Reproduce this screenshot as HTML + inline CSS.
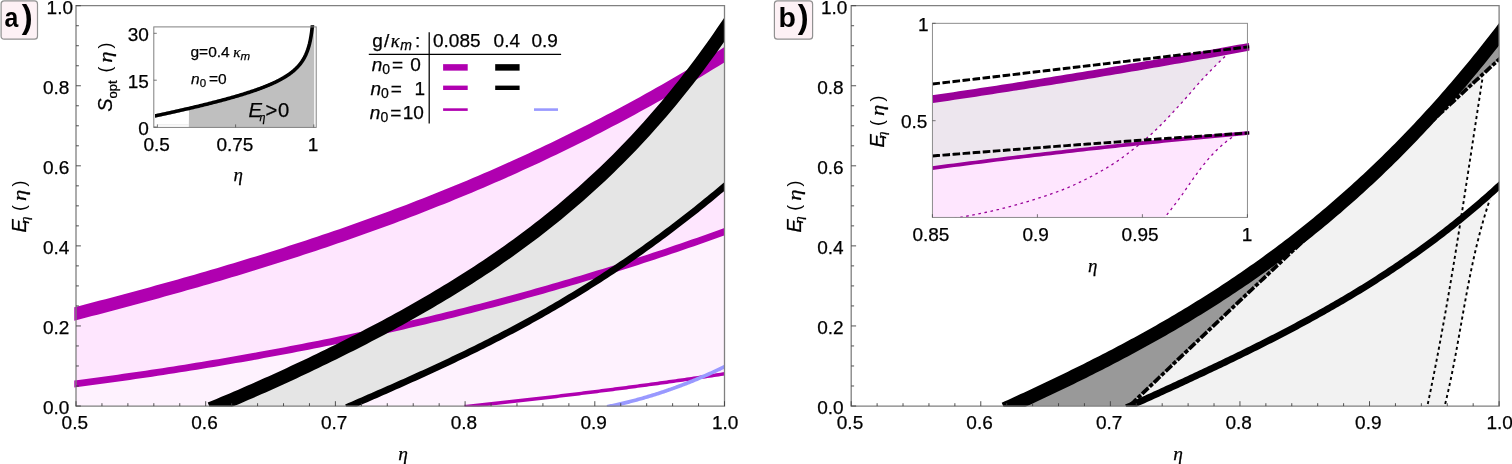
<!DOCTYPE html>
<html lang="en"><head><meta charset="utf-8"><title>Figure</title><style>
html,body{margin:0;padding:0;background:#fff;}
body{width:1512px;height:464px;overflow:hidden;}
svg{display:block;}
text{fill:#000;}
.tk{font-family:"Liberation Sans",sans-serif;font-size:19.0px;}
text{stroke:#000;stroke-width:0.25px;}
.pr{stroke-width:0;}
.sr{font-family:"Liberation Sans",sans-serif;}
.si{font-family:"Liberation Sans",sans-serif;font-style:italic;}
.gi{font-family:"Liberation Serif","DejaVu Serif",serif;font-style:italic;}
.rm{font-family:"Liberation Serif",serif;}
.lg{font-size:19px;}
.bx{font-family:"Liberation Sans",sans-serif;font-weight:bold;stroke-width:0;}
</style></head><body>
<svg width="1512" height="464" viewBox="0 0 1512 464">
<defs>
<clipPath id="cl"><rect x="74.3" y="5.7" width="650.2" height="401.1"/></clipPath>
<clipPath id="clf"><rect x="76.0" y="5.7" width="648.5" height="400.3"/></clipPath>
<clipPath id="crf"><rect x="851.2" y="5.7" width="647.8999999999999" height="400.3"/></clipPath>
<clipPath id="cr"><rect x="849.5" y="5.7" width="649.5999999999999" height="401.3"/></clipPath>
<clipPath id="cli"><rect x="155" y="25.3" width="161.2" height="102.1"/></clipPath>
<clipPath id="cri"><rect x="932.4" y="23.3" width="317" height="194.1"/></clipPath>
</defs>
<rect width="1512" height="464" fill="#fff"/>
<g clip-path="url(#clf)">
<path d="M68,315.61 L73.58,314.17 L79.16,312.73 L84.74,311.28 L90.32,309.82 L95.9,308.36 L101.48,306.9 L107.06,305.43 L112.64,303.95 L118.22,302.46 L123.8,300.97 L129.38,299.47 L134.96,297.97 L140.54,296.46 L146.12,294.94 L151.7,293.41 L157.28,291.87 L162.86,290.33 L168.44,288.78 L174.02,287.22 L179.6,285.65 L185.18,284.07 L190.76,282.48 L196.34,280.88 L201.92,279.28 L207.5,277.66 L213.08,276.03 L218.66,274.39 L224.24,272.75 L229.82,271.09 L235.39,269.42 L240.97,267.73 L246.55,266.04 L252.13,264.34 L257.71,262.62 L263.29,260.89 L268.87,259.15 L274.45,257.4 L280.03,255.63 L285.61,253.85 L291.19,252.06 L296.77,250.25 L302.35,248.43 L307.93,246.6 L313.51,244.75 L319.09,242.89 L324.67,241.01 L330.25,239.12 L335.83,237.21 L341.41,235.29 L346.99,233.36 L352.57,231.4 L358.15,229.43 L363.73,227.45 L369.31,225.45 L374.89,223.43 L380.47,221.4 L386.05,219.34 L391.63,217.28 L397.21,215.19 L402.79,213.09 L408.37,210.97 L413.95,208.83 L419.53,206.67 L425.11,204.49 L430.69,202.3 L436.27,200.08 L441.85,197.85 L447.43,195.6 L453.01,193.33 L458.59,191.03 L464.17,188.72 L469.75,186.39 L475.33,184.04 L480.91,181.66 L486.49,179.27 L492.07,176.85 L497.65,174.42 L503.23,171.96 L508.81,169.48 L514.39,166.98 L519.97,164.45 L525.55,161.91 L531.13,159.34 L536.71,156.74 L542.29,154.13 L547.87,151.49 L553.45,148.83 L559.03,146.14 L564.61,143.43 L570.18,140.7 L575.76,137.94 L581.34,135.15 L586.92,132.34 L592.5,129.51 L598.08,126.65 L603.66,123.77 L609.24,120.86 L614.82,117.92 L620.4,114.96 L625.98,111.97 L631.56,108.96 L637.14,105.91 L642.72,102.84 L648.3,99.75 L653.88,96.62 L659.46,93.47 L665.04,90.29 L670.62,87.09 L676.2,83.85 L681.78,80.58 L687.36,77.29 L692.94,73.97 L698.52,70.62 L704.1,67.23 L709.68,63.82 L715.26,60.38 L720.84,56.91 L726.42,53.41 L732,49.88 L732,228.93 L726.42,230.96 L720.84,232.99 L715.26,234.99 L709.68,236.99 L704.1,238.97 L698.52,240.93 L692.94,242.88 L687.36,244.82 L681.78,246.74 L676.2,248.64 L670.62,250.54 L665.04,252.42 L659.46,254.28 L653.88,256.14 L648.3,257.97 L642.72,259.8 L637.14,261.61 L631.56,263.41 L625.98,265.19 L620.4,266.96 L614.82,268.72 L609.24,270.46 L603.66,272.19 L598.08,273.9 L592.5,275.61 L586.92,277.3 L581.34,278.97 L575.76,280.64 L570.18,282.29 L564.61,283.93 L559.03,285.55 L553.45,287.16 L547.87,288.76 L542.29,290.35 L536.71,291.92 L531.13,293.48 L525.55,295.03 L519.97,296.57 L514.39,298.09 L508.81,299.6 L503.23,301.1 L497.65,302.59 L492.07,304.07 L486.49,305.53 L480.91,306.98 L475.33,308.42 L469.75,309.84 L464.17,311.26 L458.59,312.66 L453.01,314.05 L447.43,315.43 L441.85,316.8 L436.27,318.15 L430.69,319.5 L425.11,320.83 L419.53,322.15 L413.95,323.46 L408.37,324.76 L402.79,326.05 L397.21,327.32 L391.63,328.59 L386.05,329.84 L380.47,331.09 L374.89,332.32 L369.31,333.54 L363.73,334.75 L358.15,335.95 L352.57,337.13 L346.99,338.31 L341.41,339.48 L335.83,340.64 L330.25,341.78 L324.67,342.92 L319.09,344.04 L313.51,345.16 L307.93,346.26 L302.35,347.35 L296.77,348.44 L291.19,349.51 L285.61,350.58 L280.03,351.63 L274.45,352.67 L268.87,353.71 L263.29,354.73 L257.71,355.74 L252.13,356.75 L246.55,357.74 L240.97,358.73 L235.39,359.7 L229.82,360.67 L224.24,361.63 L218.66,362.57 L213.08,363.51 L207.5,364.44 L201.92,365.36 L196.34,366.27 L190.76,367.17 L185.18,368.06 L179.6,368.94 L174.02,369.82 L168.44,370.68 L162.86,371.54 L157.28,372.39 L151.7,373.23 L146.12,374.06 L140.54,374.88 L134.96,375.69 L129.38,376.5 L123.8,377.29 L118.22,378.08 L112.64,378.86 L107.06,379.63 L101.48,380.39 L95.9,381.15 L90.32,381.9 L84.74,382.64 L79.16,383.37 L73.58,384.09 L68,384.81Z" fill="#fee6fe"/>
<path d="M68,384.81 L71.34,384.38 L74.67,383.95 L78.01,383.52 L81.35,383.08 L84.68,382.64 L88.02,382.2 L91.36,381.76 L94.69,381.31 L98.03,380.86 L101.37,380.41 L104.7,379.95 L108.04,379.5 L111.38,379.03 L114.71,378.57 L118.05,378.1 L121.39,377.63 L124.72,377.16 L128.06,376.68 L131.4,376.21 L134.73,375.72 L138.07,375.24 L141.41,374.75 L144.74,374.26 L148.08,373.77 L151.42,373.27 L154.75,372.77 L158.09,372.26 L161.43,371.76 L164.76,371.25 L168.1,370.74 L171.44,370.22 L174.77,369.7 L178.11,369.18 L181.45,368.65 L184.78,368.12 L188.12,367.59 L191.46,367.06 L194.79,366.52 L198.13,365.98 L201.47,365.43 L204.8,364.88 L208.14,364.33 L211.48,363.78 L214.81,363.22 L218.15,362.66 L221.49,362.09 L224.82,361.53 L228.16,360.95 L231.5,360.38 L234.83,359.8 L238.17,359.22 L241.51,358.63 L244.84,358.05 L248.18,357.45 L251.52,356.86 L254.85,356.26 L258.19,355.66 L261.53,355.05 L264.86,354.44 L268.2,353.83 L271.54,353.21 L274.87,352.59 L278.21,351.97 L281.55,351.34 L284.88,350.71 L288.22,350.08 L291.56,349.44 L294.89,348.8 L298.23,348.16 L301.57,347.51 L304.9,346.85 L308.24,346.2 L311.58,345.54 L314.91,344.88 L318.25,344.21 L321.59,343.54 L324.92,342.87 L328.26,342.19 L331.6,341.51 L334.93,340.82 L338.27,340.13 L341.61,339.44 L344.94,338.74 L348.28,338.04 L351.62,337.34 L354.95,336.63 L358.29,335.92 L361.63,335.2 L364.96,334.48 L368.3,333.76 L371.64,333.03 L374.97,332.3 L378.31,331.56 L381.65,330.82 L384.98,330.08 L388.32,329.33 L391.66,328.58 L394.99,327.83 L398.33,327.07 L401.67,326.3 L405.01,325.54 L408.34,324.77 L411.68,323.99 L415.02,323.21 L418.35,322.43 L421.69,321.64 L425.03,320.85 L428.36,320.05 L431.7,319.25 L435.04,318.45 L438.37,317.64 L441.71,316.83 L445.05,316.01 L448.38,315.19 L451.72,314.37 L455.06,313.54 L458.39,312.71 L461.73,311.87 L465.07,311.03 L468.4,310.18 L471.74,309.33 L475.08,308.48 L478.41,307.62 L481.75,306.76 L485.09,305.89 L488.42,305.02 L491.76,304.15 L495.1,303.26 L498.43,302.38 L501.77,301.49 L505.11,300.6 L508.44,299.7 L511.78,298.8 L515.12,297.89 L518.45,296.98 L521.79,296.07 L525.13,295.15 L528.46,294.22 L531.8,293.3 L535.14,292.36 L538.47,291.42 L541.81,290.48 L545.15,289.54 L548.48,288.59 L551.82,287.63 L555.16,286.67 L558.49,285.7 L561.83,284.73 L565.17,283.76 L568.5,282.78 L571.84,281.8 L575.18,280.81 L578.51,279.82 L581.85,278.82 L585.19,277.82 L588.52,276.81 L591.86,275.8 L595.2,274.79 L598.53,273.77 L601.87,272.74 L605.21,271.71 L608.54,270.68 L611.88,269.63 L615.22,268.59 L618.55,267.54 L621.89,266.49 L625.23,265.43 L628.56,264.36 L631.9,263.3 L635.24,262.22 L638.57,261.14 L641.91,260.06 L645.25,258.97 L648.58,257.88 L651.92,256.78 L655.26,255.68 L658.59,254.57 L661.93,253.46 L665.27,252.34 L668.6,251.22 L671.94,250.09 L675.28,248.96 L678.61,247.82 L681.95,246.68 L685.29,245.53 L688.62,244.38 L691.96,243.22 L695.3,242.06 L698.63,240.89 L701.97,239.72 L705.31,238.54 L708.64,237.35 L711.98,236.17 L715.32,234.97 L718.65,233.77 L721.99,232.57 L725.33,231.36 L728.66,230.15 L732,228.93 L732,372.69 L728.66,373.19 L725.33,373.69 L721.99,374.19 L718.65,374.69 L715.32,375.18 L711.98,375.68 L708.64,376.17 L705.31,376.66 L701.97,377.14 L698.63,377.63 L695.3,378.11 L691.96,378.59 L688.62,379.07 L685.29,379.55 L681.95,380.02 L678.61,380.5 L675.28,380.97 L671.94,381.44 L668.6,381.9 L665.27,382.37 L661.93,382.83 L658.59,383.29 L655.26,383.75 L651.92,384.21 L648.58,384.66 L645.25,385.11 L641.91,385.56 L638.57,386.01 L635.24,386.46 L631.9,386.9 L628.56,387.35 L625.23,387.79 L621.89,388.22 L618.55,388.66 L615.22,389.09 L611.88,389.53 L608.54,389.96 L605.21,390.39 L601.87,390.81 L598.53,391.24 L595.2,391.66 L591.86,392.08 L588.52,392.5 L585.19,392.91 L581.85,393.33 L578.51,393.74 L575.18,394.15 L571.84,394.56 L568.5,394.96 L565.17,395.37 L561.83,395.77 L558.49,396.17 L555.16,396.57 L551.82,396.96 L548.48,397.36 L545.15,397.75 L541.81,398.14 L538.47,398.53 L535.14,398.91 L531.8,399.3 L528.46,399.68 L525.13,400.06 L521.79,400.44 L518.45,400.81 L515.12,401.19 L511.78,401.56 L508.44,401.93 L505.11,402.3 L501.77,402.66 L498.43,403.02 L495.1,403.39 L491.76,403.75 L488.42,404.1 L485.09,404.46 L481.75,404.81 L478.41,405.16 L475.08,405.51 L471.74,405.86 L468.4,406.21 L465.07,406.5 L461.73,406.5 L458.39,406.5 L455.06,406.5 L451.72,406.5 L448.38,406.5 L445.05,406.5 L441.71,406.5 L438.37,406.5 L435.04,406.5 L431.7,406.5 L428.36,406.5 L425.03,406.5 L421.69,406.5 L418.35,406.5 L415.02,406.5 L411.68,406.5 L408.34,406.5 L405.01,406.5 L401.67,406.5 L398.33,406.5 L394.99,406.5 L391.66,406.5 L388.32,406.5 L384.98,406.5 L381.65,406.5 L378.31,406.5 L374.97,406.5 L371.64,406.5 L368.3,406.5 L364.96,406.5 L361.63,406.5 L358.29,406.5 L354.95,406.5 L351.62,406.5 L348.28,406.5 L344.94,406.5 L341.61,406.5 L338.27,406.5 L334.93,406.5 L331.6,406.5 L328.26,406.5 L324.92,406.5 L321.59,406.5 L318.25,406.5 L314.91,406.5 L311.58,406.5 L308.24,406.5 L304.9,406.5 L301.57,406.5 L298.23,406.5 L294.89,406.5 L291.56,406.5 L288.22,406.5 L284.88,406.5 L281.55,406.5 L278.21,406.5 L274.87,406.5 L271.54,406.5 L268.2,406.5 L264.86,406.5 L261.53,406.5 L258.19,406.5 L254.85,406.5 L251.52,406.5 L248.18,406.5 L244.84,406.5 L241.51,406.5 L238.17,406.5 L234.83,406.5 L231.5,406.5 L228.16,406.5 L224.82,406.5 L221.49,406.5 L218.15,406.5 L214.81,406.5 L211.48,406.5 L208.14,406.5 L204.8,406.5 L201.47,406.5 L198.13,406.5 L194.79,406.5 L191.46,406.5 L188.12,406.5 L184.78,406.5 L181.45,406.5 L178.11,406.5 L174.77,406.5 L171.44,406.5 L168.1,406.5 L164.76,406.5 L161.43,406.5 L158.09,406.5 L154.75,406.5 L151.42,406.5 L148.08,406.5 L144.74,406.5 L141.41,406.5 L138.07,406.5 L134.73,406.5 L131.4,406.5 L128.06,406.5 L124.72,406.5 L121.39,406.5 L118.05,406.5 L114.71,406.5 L111.38,406.5 L108.04,406.5 L104.7,406.5 L101.37,406.5 L98.03,406.5 L94.69,406.5 L91.36,406.5 L88.02,406.5 L84.68,406.5 L81.35,406.5 L78.01,406.5 L74.67,406.5 L71.34,406.5 L68,406.5Z" fill="#fef2fe"/>
<path d="M213.3,407.52 L215.91,406.44 L218.51,405.36 L221.12,404.27 L223.73,403.18 L226.33,402.08 L228.94,400.98 L231.55,399.88 L234.15,398.76 L236.76,397.65 L239.37,396.53 L241.97,395.41 L244.58,394.28 L247.18,393.14 L249.79,392.01 L252.4,390.86 L255,389.72 L257.61,388.57 L260.22,387.41 L262.82,386.26 L265.43,385.09 L268.04,383.92 L270.64,382.75 L273.25,381.58 L275.86,380.4 L278.46,379.21 L281.07,378.02 L283.68,376.83 L286.28,375.63 L288.89,374.43 L291.5,373.22 L294.1,372.01 L296.71,370.79 L299.32,369.57 L301.92,368.35 L304.53,367.12 L307.14,365.89 L309.74,364.65 L312.35,363.41 L314.95,362.16 L317.56,360.91 L320.17,359.65 L322.77,358.39 L325.38,357.12 L327.99,355.85 L330.59,354.57 L333.2,353.3 L335.81,352.01 L338.41,350.72 L341.02,349.42 L343.63,348.12 L346.23,346.81 L348.84,345.5 L351.45,344.18 L354.05,342.86 L356.66,341.53 L359.27,340.2 L361.87,338.86 L364.48,337.51 L367.09,336.16 L369.69,334.8 L372.3,333.44 L374.91,332.07 L377.51,330.7 L380.12,329.31 L382.72,327.93 L385.33,326.53 L387.94,325.13 L390.54,323.73 L393.15,322.31 L395.76,320.89 L398.36,319.46 L400.97,318.03 L403.58,316.59 L406.18,315.13 L408.79,313.68 L411.4,312.22 L414,310.74 L416.61,309.27 L419.22,307.78 L421.82,306.28 L424.43,304.78 L427.04,303.27 L429.64,301.75 L432.25,300.22 L434.86,298.68 L437.46,297.14 L440.07,295.58 L442.67,294.02 L445.28,292.45 L447.89,290.87 L450.49,289.27 L453.1,287.67 L455.71,286.07 L458.31,284.44 L460.92,282.81 L463.53,281.17 L466.13,279.52 L468.74,277.86 L471.35,276.19 L473.95,274.51 L476.56,272.81 L479.17,271.11 L481.77,269.39 L484.38,267.66 L486.99,265.93 L489.59,264.17 L492.2,262.41 L494.81,260.64 L497.41,258.85 L500.02,257.05 L502.63,255.23 L505.23,253.41 L507.84,251.57 L510.44,249.71 L513.05,247.85 L515.66,245.97 L518.26,244.08 L520.87,242.17 L523.48,240.24 L526.08,238.31 L528.69,236.36 L531.3,234.39 L533.9,232.41 L536.51,230.41 L539.12,228.4 L541.72,226.37 L544.33,224.33 L546.94,222.27 L549.54,220.19 L552.15,218.1 L554.76,215.98 L557.36,213.86 L559.97,211.71 L562.58,209.55 L565.18,207.37 L567.79,205.17 L570.39,202.95 L573,200.71 L575.61,198.46 L578.21,196.19 L580.82,193.89 L583.43,191.58 L586.03,189.25 L588.64,186.89 L591.25,184.52 L593.85,182.13 L596.46,179.72 L599.07,177.28 L601.67,174.82 L604.28,172.34 L606.89,169.84 L609.49,167.32 L612.1,164.77 L614.71,162.2 L617.31,159.61 L619.92,157 L622.53,154.37 L625.13,151.7 L627.74,149.01 L630.35,146.3 L632.95,143.56 L635.56,140.81 L638.16,138.02 L640.77,135.21 L643.38,132.37 L645.98,129.5 L648.59,126.62 L651.2,123.7 L653.8,120.75 L656.41,117.78 L659.02,114.78 L661.62,111.76 L664.23,108.69 L666.84,105.61 L669.44,102.5 L672.05,99.35 L674.66,96.19 L677.26,92.97 L679.87,89.75 L682.48,86.48 L685.08,83.18 L687.69,79.86 L690.3,76.5 L692.9,73.11 L695.51,69.68 L698.12,66.23 L700.72,62.74 L703.33,59.22 L705.93,55.67 L708.54,52.07 L711.15,48.45 L713.75,44.79 L716.36,41.09 L718.97,37.37 L721.57,33.59 L724.18,29.8 L726.79,25.96 L729.39,22.08 L732,18.18 L732,180.08 L729.39,182.3 L726.79,184.51 L724.18,186.71 L721.57,188.9 L718.97,191.08 L716.36,193.25 L713.75,195.41 L711.15,197.55 L708.54,199.69 L705.93,201.81 L703.33,203.92 L700.72,206.02 L698.12,208.11 L695.51,210.19 L692.9,212.26 L690.3,214.31 L687.69,216.36 L685.08,218.39 L682.48,220.41 L679.87,222.43 L677.26,224.43 L674.66,226.41 L672.05,228.39 L669.44,230.36 L666.84,232.32 L664.23,234.26 L661.62,236.19 L659.02,238.12 L656.41,240.03 L653.8,241.93 L651.2,243.82 L648.59,245.7 L645.98,247.57 L643.38,249.43 L640.77,251.28 L638.16,253.11 L635.56,254.94 L632.95,256.75 L630.35,258.56 L627.74,260.35 L625.13,262.14 L622.53,263.91 L619.92,265.67 L617.31,267.43 L614.71,269.17 L612.1,270.9 L609.49,272.62 L606.89,274.34 L604.28,276.04 L601.67,277.73 L599.07,279.41 L596.46,281.08 L593.85,282.74 L591.25,284.4 L588.64,286.04 L586.03,287.67 L583.43,289.3 L580.82,290.91 L578.21,292.51 L575.61,294.11 L573,295.69 L570.39,297.27 L567.79,298.83 L565.18,300.39 L562.58,301.94 L559.97,303.48 L557.36,305.01 L554.76,306.53 L552.15,308.04 L549.54,309.54 L546.94,311.04 L544.33,312.52 L541.72,314 L539.12,315.47 L536.51,316.93 L533.9,318.38 L531.3,319.82 L528.69,321.26 L526.08,322.69 L523.48,324.11 L520.87,325.52 L518.26,326.92 L515.66,328.32 L513.05,329.71 L510.44,331.09 L507.84,332.46 L505.23,333.83 L502.63,335.19 L500.02,336.54 L497.41,337.88 L494.81,339.22 L492.2,340.55 L489.59,341.88 L486.99,343.19 L484.38,344.5 L481.77,345.81 L479.17,347.11 L476.56,348.4 L473.95,349.68 L471.35,350.96 L468.74,352.24 L466.13,353.51 L463.53,354.77 L460.92,356.03 L458.31,357.28 L455.71,358.52 L453.1,359.76 L450.49,361 L447.89,362.23 L445.28,363.46 L442.67,364.68 L440.07,365.89 L437.46,367.11 L434.86,368.31 L432.25,369.52 L429.64,370.72 L427.04,371.91 L424.43,373.1 L421.82,374.29 L419.22,375.47 L416.61,376.65 L414,377.83 L411.4,379.01 L408.79,380.18 L406.18,381.34 L403.58,382.51 L400.97,383.67 L398.36,384.83 L395.76,385.99 L393.15,387.14 L390.54,388.3 L387.94,389.45 L385.33,390.6 L382.72,391.75 L380.12,392.89 L377.51,394.04 L374.91,395.18 L372.3,396.32 L369.69,397.47 L367.09,398.61 L364.48,399.75 L361.87,400.89 L359.27,402.03 L356.66,403.17 L354.05,404.31 L351.45,405.45 L348.84,406.5 L346.23,406.5 L343.63,406.5 L341.02,406.5 L338.41,406.5 L335.81,406.5 L333.2,406.5 L330.59,406.5 L327.99,406.5 L325.38,406.5 L322.77,406.5 L320.17,406.5 L317.56,406.5 L314.95,406.5 L312.35,406.5 L309.74,406.5 L307.14,406.5 L304.53,406.5 L301.92,406.5 L299.32,406.5 L296.71,406.5 L294.1,406.5 L291.5,406.5 L288.89,406.5 L286.28,406.5 L283.68,406.5 L281.07,406.5 L278.46,406.5 L275.86,406.5 L273.25,406.5 L270.64,406.5 L268.04,406.5 L265.43,406.5 L262.82,406.5 L260.22,406.5 L257.61,406.5 L255,406.5 L252.4,406.5 L249.79,406.5 L247.18,406.5 L244.58,406.5 L241.97,406.5 L239.37,406.5 L236.76,406.5 L234.15,406.5 L231.55,406.5 L228.94,406.5 L226.33,406.5 L223.73,406.5 L221.12,406.5 L218.51,406.5 L215.91,406.5 L213.3,406.5Z" fill="#e5e5e5"/>
</g><g clip-path="url(#cl)">
<path d="M68,315.61 L73.58,314.17 L79.16,312.73 L84.74,311.28 L90.32,309.82 L95.9,308.36 L101.48,306.9 L107.06,305.43 L112.64,303.95 L118.22,302.46 L123.8,300.97 L129.38,299.47 L134.96,297.97 L140.54,296.46 L146.12,294.94 L151.7,293.41 L157.28,291.87 L162.86,290.33 L168.44,288.78 L174.02,287.22 L179.6,285.65 L185.18,284.07 L190.76,282.48 L196.34,280.88 L201.92,279.28 L207.5,277.66 L213.08,276.03 L218.66,274.39 L224.24,272.75 L229.82,271.09 L235.39,269.42 L240.97,267.73 L246.55,266.04 L252.13,264.34 L257.71,262.62 L263.29,260.89 L268.87,259.15 L274.45,257.4 L280.03,255.63 L285.61,253.85 L291.19,252.06 L296.77,250.25 L302.35,248.43 L307.93,246.6 L313.51,244.75 L319.09,242.89 L324.67,241.01 L330.25,239.12 L335.83,237.21 L341.41,235.29 L346.99,233.36 L352.57,231.4 L358.15,229.43 L363.73,227.45 L369.31,225.45 L374.89,223.43 L380.47,221.4 L386.05,219.34 L391.63,217.28 L397.21,215.19 L402.79,213.09 L408.37,210.97 L413.95,208.83 L419.53,206.67 L425.11,204.49 L430.69,202.3 L436.27,200.08 L441.85,197.85 L447.43,195.6 L453.01,193.33 L458.59,191.03 L464.17,188.72 L469.75,186.39 L475.33,184.04 L480.91,181.66 L486.49,179.27 L492.07,176.85 L497.65,174.42 L503.23,171.96 L508.81,169.48 L514.39,166.98 L519.97,164.45 L525.55,161.91 L531.13,159.34 L536.71,156.74 L542.29,154.13 L547.87,151.49 L553.45,148.83 L559.03,146.14 L564.61,143.43 L570.18,140.7 L575.76,137.94 L581.34,135.15 L586.92,132.34 L592.5,129.51 L598.08,126.65 L603.66,123.77 L609.24,120.86 L614.82,117.92 L620.4,114.96 L625.98,111.97 L631.56,108.96 L637.14,105.91 L642.72,102.84 L648.3,99.75 L653.88,96.62 L659.46,93.47 L665.04,90.29 L670.62,87.09 L676.2,83.85 L681.78,80.58 L687.36,77.29 L692.94,73.97 L698.52,70.62 L704.1,67.23 L709.68,63.82 L715.26,60.38 L720.84,56.91 L726.42,53.41 L732,49.88" fill="none" stroke="#b000b0" stroke-width="13"/>
<path d="M68,384.81 L73.58,384.09 L79.16,383.37 L84.74,382.64 L90.32,381.9 L95.9,381.15 L101.48,380.39 L107.06,379.63 L112.64,378.86 L118.22,378.08 L123.8,377.29 L129.38,376.5 L134.96,375.69 L140.54,374.88 L146.12,374.06 L151.7,373.23 L157.28,372.39 L162.86,371.54 L168.44,370.68 L174.02,369.82 L179.6,368.94 L185.18,368.06 L190.76,367.17 L196.34,366.27 L201.92,365.36 L207.5,364.44 L213.08,363.51 L218.66,362.57 L224.24,361.63 L229.82,360.67 L235.39,359.7 L240.97,358.73 L246.55,357.74 L252.13,356.75 L257.71,355.74 L263.29,354.73 L268.87,353.71 L274.45,352.67 L280.03,351.63 L285.61,350.58 L291.19,349.51 L296.77,348.44 L302.35,347.35 L307.93,346.26 L313.51,345.16 L319.09,344.04 L324.67,342.92 L330.25,341.78 L335.83,340.64 L341.41,339.48 L346.99,338.31 L352.57,337.13 L358.15,335.95 L363.73,334.75 L369.31,333.54 L374.89,332.32 L380.47,331.09 L386.05,329.84 L391.63,328.59 L397.21,327.32 L402.79,326.05 L408.37,324.76 L413.95,323.46 L419.53,322.15 L425.11,320.83 L430.69,319.5 L436.27,318.15 L441.85,316.8 L447.43,315.43 L453.01,314.05 L458.59,312.66 L464.17,311.26 L469.75,309.84 L475.33,308.42 L480.91,306.98 L486.49,305.53 L492.07,304.07 L497.65,302.59 L503.23,301.1 L508.81,299.6 L514.39,298.09 L519.97,296.57 L525.55,295.03 L531.13,293.48 L536.71,291.92 L542.29,290.35 L547.87,288.76 L553.45,287.16 L559.03,285.55 L564.61,283.93 L570.18,282.29 L575.76,280.64 L581.34,278.97 L586.92,277.3 L592.5,275.61 L598.08,273.9 L603.66,272.19 L609.24,270.46 L614.82,268.72 L620.4,266.96 L625.98,265.19 L631.56,263.41 L637.14,261.61 L642.72,259.8 L648.3,257.97 L653.88,256.14 L659.46,254.28 L665.04,252.42 L670.62,250.54 L676.2,248.64 L681.78,246.74 L687.36,244.82 L692.94,242.88 L698.52,240.93 L704.1,238.97 L709.68,236.99 L715.26,234.99 L720.84,232.99 L726.42,230.96 L732,228.93" fill="none" stroke="#b000b0" stroke-width="6.9"/>
<path d="M464.5,406.61 L466.75,406.38 L469,406.15 L471.24,405.91 L473.49,405.68 L475.74,405.44 L477.99,405.21 L480.24,404.97 L482.48,404.74 L484.73,404.5 L486.98,404.26 L489.23,404.02 L491.47,403.78 L493.72,403.53 L495.97,403.29 L498.22,403.05 L500.47,402.8 L502.71,402.56 L504.96,402.31 L507.21,402.06 L509.46,401.82 L511.71,401.57 L513.95,401.32 L516.2,401.06 L518.45,400.81 L520.7,400.56 L522.95,400.31 L525.19,400.05 L527.44,399.8 L529.69,399.54 L531.94,399.28 L534.18,399.02 L536.43,398.76 L538.68,398.5 L540.93,398.24 L543.18,397.98 L545.42,397.72 L547.67,397.45 L549.92,397.19 L552.17,396.92 L554.42,396.66 L556.66,396.39 L558.91,396.12 L561.16,395.85 L563.41,395.58 L565.66,395.31 L567.9,395.04 L570.15,394.76 L572.4,394.49 L574.65,394.21 L576.89,393.94 L579.14,393.66 L581.39,393.38 L583.64,393.11 L585.89,392.83 L588.13,392.55 L590.38,392.26 L592.63,391.98 L594.88,391.7 L597.13,391.41 L599.37,391.13 L601.62,390.84 L603.87,390.56 L606.12,390.27 L608.37,389.98 L610.61,389.69 L612.86,389.4 L615.11,389.11 L617.36,388.82 L619.61,388.52 L621.85,388.23 L624.1,387.93 L626.35,387.64 L628.6,387.34 L630.84,387.04 L633.09,386.74 L635.34,386.44 L637.59,386.14 L639.84,385.84 L642.08,385.54 L644.33,385.24 L646.58,384.93 L648.83,384.63 L651.08,384.32 L653.32,384.01 L655.57,383.71 L657.82,383.4 L660.07,383.09 L662.32,382.78 L664.56,382.46 L666.81,382.15 L669.06,381.84 L671.31,381.52 L673.55,381.21 L675.8,380.89 L678.05,380.58 L680.3,380.26 L682.55,379.94 L684.79,379.62 L687.04,379.3 L689.29,378.98 L691.54,378.65 L693.79,378.33 L696.03,378.01 L698.28,377.68 L700.53,377.35 L702.78,377.03 L705.03,376.7 L707.27,376.37 L709.52,376.04 L711.77,375.71 L714.02,375.38 L716.26,375.04 L718.51,374.71 L720.76,374.38 L723.01,374.04 L725.26,373.7 L727.5,373.37 L729.75,373.03 L732,372.69" fill="none" stroke="#b000b0" stroke-width="3.5"/>
<path d="M210.3,408.76 L214.68,406.95 L219.07,405.13 L223.45,403.3 L227.84,401.45 L232.22,399.59 L236.6,397.72 L240.99,395.83 L245.37,393.93 L249.76,392.02 L254.14,390.1 L258.52,388.17 L262.91,386.22 L267.29,384.26 L271.68,382.29 L276.06,380.3 L280.44,378.31 L284.83,376.3 L289.21,374.28 L293.6,372.25 L297.98,370.2 L302.36,368.14 L306.75,366.07 L311.13,363.99 L315.52,361.89 L319.9,359.78 L324.28,357.66 L328.67,355.52 L333.05,353.37 L337.44,351.2 L341.82,349.02 L346.21,346.83 L350.59,344.62 L354.97,342.39 L359.36,340.15 L363.74,337.89 L368.13,335.62 L372.51,333.33 L376.89,331.02 L381.28,328.7 L385.66,326.36 L390.05,324 L394.43,321.62 L398.81,319.22 L403.2,316.8 L407.58,314.36 L411.97,311.9 L416.35,309.41 L420.73,306.91 L425.12,304.38 L429.5,301.83 L433.89,299.26 L438.27,296.66 L442.65,294.03 L447.04,291.38 L451.42,288.71 L455.81,286.01 L460.19,283.27 L464.57,280.51 L468.96,277.72 L473.34,274.9 L477.73,272.05 L482.11,269.17 L486.49,266.26 L490.88,263.31 L495.26,260.33 L499.65,257.31 L504.03,254.25 L508.41,251.16 L512.8,248.03 L517.18,244.87 L521.57,241.66 L525.95,238.41 L530.33,235.12 L534.72,231.79 L539.1,228.41 L543.49,224.99 L547.87,221.53 L552.25,218.01 L556.64,214.45 L561.02,210.84 L565.41,207.18 L569.79,203.47 L574.17,199.71 L578.56,195.89 L582.94,192.02 L587.33,188.09 L591.71,184.1 L596.09,180.06 L600.48,175.96 L604.86,171.79 L609.25,167.56 L613.63,163.27 L618.02,158.92 L622.4,154.5 L626.78,150.01 L631.17,145.45 L635.55,140.82 L639.94,136.12 L644.32,131.34 L648.7,126.5 L653.09,121.57 L657.47,116.57 L661.86,111.49 L666.24,106.33 L670.62,101.09 L675.01,95.76 L679.39,90.35 L683.78,84.85 L688.16,79.26 L692.54,73.58 L696.93,67.82 L701.31,61.95 L705.7,56 L710.08,49.95 L714.46,43.8 L718.85,37.54 L723.23,31.19 L727.62,24.74 L732,18.18" fill="none" stroke="#000" stroke-width="13.5"/>
<path d="M346.5,407.61 L349.74,406.19 L352.98,404.78 L356.22,403.36 L359.46,401.94 L362.7,400.53 L365.94,399.11 L369.18,397.69 L372.42,396.27 L375.66,394.85 L378.89,393.43 L382.13,392.01 L385.37,390.58 L388.61,389.15 L391.85,387.72 L395.09,386.28 L398.33,384.85 L401.57,383.4 L404.81,381.96 L408.05,380.51 L411.29,379.05 L414.53,377.59 L417.77,376.13 L421.01,374.66 L424.25,373.18 L427.49,371.7 L430.73,370.22 L433.97,368.72 L437.21,367.22 L440.45,365.72 L443.68,364.21 L446.92,362.68 L450.16,361.16 L453.4,359.62 L456.64,358.08 L459.88,356.53 L463.12,354.97 L466.36,353.4 L469.6,351.82 L472.84,350.23 L476.08,348.64 L479.32,347.03 L482.56,345.42 L485.8,343.79 L489.04,342.16 L492.28,340.51 L495.52,338.86 L498.76,337.19 L502,335.51 L505.24,333.83 L508.47,332.13 L511.71,330.42 L514.95,328.69 L518.19,326.96 L521.43,325.22 L524.67,323.46 L527.91,321.69 L531.15,319.91 L534.39,318.11 L537.63,316.3 L540.87,314.48 L544.11,312.65 L547.35,310.8 L550.59,308.94 L553.83,307.07 L557.07,305.18 L560.31,303.28 L563.55,301.36 L566.79,299.43 L570.03,297.49 L573.26,295.53 L576.5,293.56 L579.74,291.57 L582.98,289.57 L586.22,287.56 L589.46,285.52 L592.7,283.48 L595.94,281.42 L599.18,279.34 L602.42,277.25 L605.66,275.14 L608.9,273.02 L612.14,270.88 L615.38,268.72 L618.62,266.55 L621.86,264.37 L625.1,262.16 L628.34,259.95 L631.58,257.71 L634.82,255.46 L638.05,253.19 L641.29,250.91 L644.53,248.61 L647.77,246.29 L651.01,243.96 L654.25,241.61 L657.49,239.24 L660.73,236.86 L663.97,234.45 L667.21,232.04 L670.45,229.6 L673.69,227.15 L676.93,224.68 L680.17,222.2 L683.41,219.69 L686.65,217.17 L689.89,214.64 L693.13,212.08 L696.37,209.51 L699.61,206.92 L702.84,204.31 L706.08,201.69 L709.32,199.05 L712.56,196.39 L715.8,193.71 L719.04,191.02 L722.28,188.31 L725.52,185.58 L728.76,182.84 L732,180.08" fill="none" stroke="#000" stroke-width="6.7"/>
<path d="M607,406.77 L608.05,406.56 L609.1,406.35 L610.15,406.14 L611.2,405.92 L612.25,405.7 L613.3,405.48 L614.35,405.26 L615.4,405.03 L616.45,404.8 L617.5,404.57 L618.55,404.33 L619.61,404.09 L620.66,403.85 L621.71,403.61 L622.76,403.36 L623.81,403.11 L624.86,402.86 L625.91,402.61 L626.96,402.35 L628.01,402.09 L629.06,401.83 L630.11,401.56 L631.16,401.29 L632.21,401.02 L633.26,400.75 L634.31,400.47 L635.36,400.2 L636.41,399.91 L637.46,399.63 L638.51,399.34 L639.56,399.05 L640.61,398.76 L641.66,398.47 L642.71,398.17 L643.76,397.87 L644.82,397.57 L645.87,397.26 L646.92,396.95 L647.97,396.64 L649.02,396.33 L650.07,396.01 L651.12,395.69 L652.17,395.37 L653.22,395.05 L654.27,394.72 L655.32,394.39 L656.37,394.06 L657.42,393.72 L658.47,393.39 L659.52,393.05 L660.57,392.7 L661.62,392.36 L662.67,392.01 L663.72,391.66 L664.77,391.3 L665.82,390.95 L666.87,390.59 L667.92,390.23 L668.97,389.86 L670.03,389.49 L671.08,389.12 L672.13,388.75 L673.18,388.38 L674.23,388 L675.28,387.62 L676.33,387.23 L677.38,386.85 L678.43,386.46 L679.48,386.07 L680.53,385.67 L681.58,385.28 L682.63,384.88 L683.68,384.47 L684.73,384.07 L685.78,383.66 L686.83,383.25 L687.88,382.84 L688.93,382.42 L689.98,382 L691.03,381.58 L692.08,381.16 L693.13,380.73 L694.18,380.3 L695.24,379.87 L696.29,379.44 L697.34,379 L698.39,378.56 L699.44,378.12 L700.49,377.67 L701.54,377.22 L702.59,376.77 L703.64,376.32 L704.69,375.86 L705.74,375.41 L706.79,374.94 L707.84,374.48 L708.89,374.01 L709.94,373.54 L710.99,373.07 L712.04,372.6 L713.09,372.12 L714.14,371.64 L715.19,371.16 L716.24,370.67 L717.29,370.18 L718.34,369.69 L719.39,369.2 L720.45,368.7 L721.5,368.2 L722.55,367.7 L723.6,367.2 L724.65,366.69 L725.7,366.18 L726.75,365.67 L727.8,365.15 L728.85,364.63 L729.9,364.11 L730.95,363.59 L732,363.06" fill="none" stroke="#9999ff" stroke-width="3.7"/>
</g>
<path d="M76.0,5.6 H724.5 V406.1 H76.0 Z" fill="none" stroke="#808080" stroke-width="1.3"/>
<path d="M76,406.1 v-4.9M101.94,406.1 v-2.9M127.88,406.1 v-2.9M153.82,406.1 v-2.9M179.76,406.1 v-2.9M205.7,406.1 v-4.9M231.64,406.1 v-2.9M257.58,406.1 v-2.9M283.52,406.1 v-2.9M309.46,406.1 v-2.9M335.4,406.1 v-4.9M361.34,406.1 v-2.9M387.28,406.1 v-2.9M413.22,406.1 v-2.9M439.16,406.1 v-2.9M465.1,406.1 v-4.9M491.04,406.1 v-2.9M516.98,406.1 v-2.9M542.92,406.1 v-2.9M568.86,406.1 v-2.9M594.8,406.1 v-4.9M620.74,406.1 v-2.9M646.68,406.1 v-2.9M672.62,406.1 v-2.9M698.56,406.1 v-2.9M724.5,406.1 v-4.9M76.0,406 h4.9M76.0,385.99 h2.9M76.0,365.97 h2.9M76.0,345.95 h2.9M76.0,325.94 h4.9M76.0,305.93 h2.9M76.0,285.91 h2.9M76.0,265.89 h2.9M76.0,245.88 h4.9M76.0,225.86 h2.9M76.0,205.85 h2.9M76.0,185.83 h2.9M76.0,165.82 h4.9M76.0,145.8 h2.9M76.0,125.79 h2.9M76.0,105.77 h2.9M76.0,85.76 h4.9M76.0,65.75 h2.9M76.0,45.73 h2.9M76.0,25.72 h2.9M76.0,5.7 h4.9" fill="none" stroke="#404040" stroke-width="0.9"/>
<text x="74.8" y="428.7" text-anchor="middle" class="tk">0.5</text>
<text x="204.5" y="428.7" text-anchor="middle" class="tk">0.6</text>
<text x="334.2" y="428.7" text-anchor="middle" class="tk">0.7</text>
<text x="463.9" y="428.7" text-anchor="middle" class="tk">0.8</text>
<text x="593.6" y="428.7" text-anchor="middle" class="tk">0.9</text>
<text x="725.1" y="428.7" text-anchor="middle" class="tk">1.0</text>
<text x="69.4" y="413.9" text-anchor="end" class="tk">0.0</text>
<text x="69.4" y="333.84" text-anchor="end" class="tk">0.2</text>
<text x="69.4" y="253.78" text-anchor="end" class="tk">0.4</text>
<text x="69.4" y="173.72" text-anchor="end" class="tk">0.6</text>
<text x="69.4" y="93.66" text-anchor="end" class="tk">0.8</text>
<text x="73" y="13.6" text-anchor="end" class="tk">1.0</text>
<g transform="translate(26.2,231.6) rotate(-90)"><text x="-1" y="0" class="si" style="font-size:20px">E</text><text transform="translate(7.8,2.7) scale(1.12,1)" class="gi" style="font-size:13px">η</text><text x="20.6" y="-0.9" class="sr pr" style="font-size:17.8px">(</text><text transform="translate(30.7,0) scale(1.18,1)" class="gi" style="font-size:19.2px">η</text><text x="45.0" y="-0.9" class="sr pr" style="font-size:17.8px">)</text></g>
<text x="403" y="459.6" text-anchor="middle" class="gi" style="font-size:19.5px">η</text>
<rect x="1.1" y="0.9" width="36.4" height="38.3" rx="3" ry="3" fill="#fdf1f5" stroke="#919191" stroke-width="1.2"/><text transform="translate(4.6,27.35) scale(0.87,1)" class="bx" style="font-size:28.5px">a</text><text x="21.8" y="28.1" class="bx" style="font-size:32.7px">)</text>
<rect x="774.4" y="0.9" width="38.2" height="38.3" rx="3" ry="3" fill="#fdf1f5" stroke="#919191" stroke-width="1.2"/><text transform="translate(778.4,27.35) scale(1,1)" class="bx" style="font-size:28.5px">b</text><text x="797.8" y="28.1" class="bx" style="font-size:32.7px">)</text>
<rect x="153.8" y="26.9" width="162.4" height="100.5" fill="#fff"/>
<g clip-path="url(#cli)">
<path d="M189.04,108.39 L190.43,108.06 L191.82,107.74 L193.19,107.41 L194.56,107.09 L195.92,106.77 L197.27,106.45 L198.62,106.13 L199.95,105.81 L201.28,105.48 L202.59,105.16 L203.9,104.84 L205.2,104.53 L206.49,104.21 L207.78,103.89 L209.05,103.57 L210.32,103.25 L211.58,102.93 L212.83,102.62 L214.07,102.3 L215.3,101.98 L216.53,101.67 L217.74,101.35 L218.95,101.03 L220.15,100.72 L221.34,100.4 L222.52,100.09 L223.7,99.77 L224.86,99.46 L226.02,99.14 L227.17,98.83 L228.31,98.51 L229.45,98.2 L230.57,97.88 L231.69,97.57 L232.8,97.25 L233.9,96.94 L234.99,96.62 L236.07,96.31 L237.15,95.99 L238.21,95.68 L239.27,95.36 L240.32,95.05 L241.37,94.73 L242.4,94.41 L243.43,94.1 L244.45,93.78 L245.46,93.46 L246.46,93.15 L247.45,92.83 L248.44,92.51 L249.42,92.19 L250.39,91.87 L251.35,91.55 L252.3,91.23 L253.25,90.91 L254.18,90.59 L255.11,90.27 L256.04,89.95 L256.95,89.63 L257.86,89.3 L258.75,88.98 L259.64,88.65 L260.52,88.33 L261.4,88 L262.26,87.67 L263.12,87.34 L263.97,87.01 L264.82,86.68 L265.65,86.35 L266.48,86.02 L267.3,85.68 L268.11,85.35 L268.91,85.01 L269.71,84.67 L270.49,84.33 L271.27,83.99 L272.04,83.65 L272.81,83.31 L273.57,82.96 L274.31,82.61 L275.06,82.26 L275.79,81.91 L276.52,81.56 L277.23,81.21 L277.94,80.85 L278.65,80.49 L279.34,80.13 L280.03,79.77 L280.71,79.4 L281.38,79.03 L282.05,78.66 L282.7,78.29 L283.35,77.91 L284,77.54 L284.63,77.16 L285.26,76.77 L285.88,76.39 L286.49,76 L287.1,75.6 L287.69,75.21 L288.28,74.81 L288.87,74.4 L289.44,74 L290.01,73.59 L290.57,73.17 L291.12,72.75 L291.67,72.33 L292.21,71.9 L292.74,71.47 L293.26,71.04 L293.78,70.6 L294.29,70.15 L294.79,69.7 L295.28,69.25 L295.77,68.79 L296.25,68.32 L296.73,67.85 L297.19,67.37 L297.65,66.89 L298.1,66.4 L298.55,65.9 L298.99,65.4 L299.42,64.89 L299.84,64.37 L300.26,63.85 L300.67,63.32 L301.07,62.78 L301.47,62.23 L301.86,61.68 L302.24,61.11 L302.61,60.54 L302.98,59.96 L303.34,59.37 L303.7,58.77 L304.05,58.16 L304.39,57.54 L304.72,56.9 L305.05,56.26 L305.37,55.61 L305.69,54.94 L305.99,54.26 L306.29,53.57 L306.59,52.87 L306.88,52.16 L307.16,51.43 L307.43,50.68 L307.7,49.93 L307.96,49.15 L308.22,48.37 L308.47,47.57 L308.71,46.75 L308.94,45.91 L309.17,45.06 L309.4,44.19 L309.61,43.31 L309.82,42.41 L310.03,41.49 L310.23,40.55 L310.42,39.6 L310.61,38.62 L310.79,37.63 L310.96,36.62 L311.13,35.6 L311.29,34.55 L311.45,33.49 L311.6,32.42 L311.74,31.32 L311.88,30.22 L312.01,29.1 L312.14,27.97 L312.26,26.83 L312.37,25.68 L312.48,24.53 L312.59,23.37 L312.69,22.22 L312.78,21.07 L312.87,19.93 L312.95,18.81 L314.2,22 L314.2,127.4 L188.8,127.4Z" fill="#bfbfbf"/>
<path d="M154.6,116.02 L156.19,115.68 L157.78,115.34 L159.35,115 L160.92,114.66 L162.48,114.33 L164.03,113.99 L165.57,113.66 L167.1,113.32 L168.62,112.99 L170.14,112.66 L171.64,112.32 L173.14,111.99 L174.63,111.66 L176.11,111.33 L177.58,111 L179.04,110.67 L180.5,110.34 L181.94,110.02 L183.38,109.69 L184.81,109.36 L186.23,109.04 L187.64,108.71 L189.04,108.39 L190.43,108.06 L191.82,107.74 L193.19,107.41 L194.56,107.09 L195.92,106.77 L197.27,106.45 L198.62,106.13 L199.95,105.81 L201.28,105.48 L202.59,105.16 L203.9,104.84 L205.2,104.53 L206.49,104.21 L207.78,103.89 L209.05,103.57 L210.32,103.25 L211.58,102.93 L212.83,102.62 L214.07,102.3 L215.3,101.98 L216.53,101.67 L217.74,101.35 L218.95,101.03 L220.15,100.72 L221.34,100.4 L222.52,100.09 L223.7,99.77 L224.86,99.46 L226.02,99.14 L227.17,98.83 L228.31,98.51 L229.45,98.2 L230.57,97.88 L231.69,97.57 L232.8,97.25 L233.9,96.94 L234.99,96.62 L236.07,96.31 L237.15,95.99 L238.21,95.68 L239.27,95.36 L240.32,95.05 L241.37,94.73 L242.4,94.41 L243.43,94.1 L244.45,93.78 L245.46,93.46 L246.46,93.15 L247.45,92.83 L248.44,92.51 L249.42,92.19 L250.39,91.87 L251.35,91.55 L252.3,91.23 L253.25,90.91 L254.18,90.59 L255.11,90.27 L256.04,89.95 L256.95,89.63 L257.86,89.3 L258.75,88.98 L259.64,88.65 L260.52,88.33 L261.4,88 L262.26,87.67 L263.12,87.34 L263.97,87.01 L264.82,86.68 L265.65,86.35 L266.48,86.02 L267.3,85.68 L268.11,85.35 L268.91,85.01 L269.71,84.67 L270.49,84.33 L271.27,83.99 L272.04,83.65 L272.81,83.31 L273.57,82.96 L274.31,82.61 L275.06,82.26 L275.79,81.91 L276.52,81.56 L277.23,81.21 L277.94,80.85 L278.65,80.49 L279.34,80.13 L280.03,79.77 L280.71,79.4 L281.38,79.03 L282.05,78.66 L282.7,78.29 L283.35,77.91 L284,77.54 L284.63,77.16 L285.26,76.77 L285.88,76.39 L286.49,76 L287.1,75.6 L287.69,75.21 L288.28,74.81 L288.87,74.4 L289.44,74 L290.01,73.59 L290.57,73.17 L291.12,72.75 L291.67,72.33 L292.21,71.9 L292.74,71.47 L293.26,71.04 L293.78,70.6 L294.29,70.15 L294.79,69.7 L295.28,69.25 L295.77,68.79 L296.25,68.32 L296.73,67.85 L297.19,67.37 L297.65,66.89 L298.1,66.4 L298.55,65.9 L298.99,65.4 L299.42,64.89 L299.84,64.37 L300.26,63.85 L300.67,63.32 L301.07,62.78 L301.47,62.23 L301.86,61.68 L302.24,61.11 L302.61,60.54 L302.98,59.96 L303.34,59.37 L303.7,58.77 L304.05,58.16 L304.39,57.54 L304.72,56.9 L305.05,56.26 L305.37,55.61 L305.69,54.94 L305.99,54.26 L306.29,53.57 L306.59,52.87 L306.88,52.16 L307.16,51.43 L307.43,50.68 L307.7,49.93 L307.96,49.15 L308.22,48.37 L308.47,47.57 L308.71,46.75 L308.94,45.91 L309.17,45.06 L309.4,44.19 L309.61,43.31 L309.82,42.41 L310.03,41.49 L310.23,40.55 L310.42,39.6 L310.61,38.62 L310.79,37.63 L310.96,36.62 L311.13,35.6 L311.29,34.55 L311.45,33.49 L311.6,32.42 L311.74,31.32 L311.88,30.22 L312.01,29.1 L312.14,27.97 L312.26,26.83 L312.37,25.68 L312.48,24.53 L312.59,23.37 L312.69,22.22 L312.78,21.07 L312.87,19.93 L312.95,18.81" fill="none" stroke="#000" stroke-width="3.6"/>
</g>
<path d="M157.4,124.8 H188.8" stroke="#e4e4e4" stroke-width="0.8" fill="none"/>
<rect x="153.8" y="26.9" width="162.4" height="100.5" fill="none" stroke="#808080" stroke-width="1"/>
<path d="M157.4,127.4 v-3M235.6,127.4 v-3M313.8,127.4 v-3M153.8,127.0 h3M153.8,80.2 h3M153.8,33.3 h3" stroke="#404040" stroke-width="0.7" fill="none"/>
<text x="156.70000000000002" y="150.7" text-anchor="middle" class="tk">0.5</text>
<text x="234.9" y="150.7" text-anchor="middle" class="tk">0.75</text>
<text x="313.1" y="150.7" text-anchor="middle" class="tk">1</text>
<text x="148.8" y="134.9" text-anchor="end" class="tk">0</text>
<text x="148.8" y="88.10000000000001" text-anchor="end" class="tk">15</text>
<text x="148.8" y="41.199999999999996" text-anchor="end" class="tk">30</text>
<text x="238.3" y="180.9" text-anchor="middle" class="gi" style="font-size:19px">η</text>
<g transform="translate(111.5,111) rotate(-90)"><text x="-0.8" y="0" class="si" style="font-size:20px">S</text><text x="12.6" y="5" class="sr" style="font-size:13px">opt</text><text x="38.4" y="-0.9" class="sr pr" style="font-size:17.8px">(</text><text transform="translate(48.2,0) scale(1.18,1)" class="gi" style="font-size:19.2px">η</text><text x="62.6" y="-0.9" class="sr pr" style="font-size:17.8px">)</text></g>
<text x="190.5" y="56.6" class="sr" style="font-size:15.5px">g=0.4<tspan dx="3.5" class="gi" style="font-size:15px">κ</tspan><tspan class="si" dy="3" style="font-size:11.5px">m</tspan></text>
<text x="191" y="84.1" class="sr" style="font-size:15.5px"><tspan class="si">n</tspan><tspan dy="3" style="font-size:11.5px">0</tspan><tspan dy="-3" dx="3">=0</tspan></text>
<text x="248.6" y="117" class="sr" style="font-size:20.2px"><tspan class="si">E</tspan><tspan class="gi" x="259.2" y="121" style="font-size:12.5px">η</tspan><tspan x="265.4" y="117">&gt;</tspan><tspan x="278.1" y="117">0</tspan></text>
<path d="M368.8,54.3 H561.1 M429.2,32.3 V123.4" stroke="#000" stroke-width="1.25" fill="none"/>
<text x="372.2" y="46.6" class="sr lg">g<tspan dx="1.3">/</tspan><tspan dx="1.3" class="gi" style="font-size:18.5px">κ</tspan><tspan class="si" dx="0.6" dy="3.5" style="font-size:14px">m</tspan><tspan dy="-3.5" dx="3.3">:</tspan></text>
<text x="433" y="46.6" class="sr lg">0.085</text>
<text x="493.6" y="46.6" class="sr lg">0.4</text>
<text x="531.5" y="46.6" class="sr lg">0.9</text>
<text x="371.7" y="70.6" class="sr lg"><tspan class="si">n</tspan><tspan dy="3.5" style="font-size:14px">0</tspan><tspan dy="-3.5" dx="2">=</tspan><tspan dx="7">0</tspan></text>
<text x="370.4" y="94.6" class="sr lg"><tspan class="si">n</tspan><tspan dy="3.5" style="font-size:14px">0</tspan><tspan dy="-3.5" dx="2">=</tspan><tspan dx="12.5">1</tspan></text>
<text x="369.8" y="118.6" class="sr lg"><tspan class="si">n</tspan><tspan dy="3.5" style="font-size:14px">0</tspan><tspan dy="-3.5" dx="2">=</tspan><tspan dx="1.5">10</tspan></text>
<path d="M443.1,67.4 H467.7" stroke="#b000b0" stroke-width="6.5" fill="none"/>
<path d="M495.2,67.4 H519.6" stroke="#000" stroke-width="6.5" fill="none"/>
<path d="M443.1,87.8 H467.7" stroke="#b000b0" stroke-width="4.4" fill="none"/>
<path d="M495.2,87.8 H519.6" stroke="#000" stroke-width="4.4" fill="none"/>
<path d="M443.1,109.6 H467.7" stroke="#b000b0" stroke-width="2.6" fill="none"/>
<path d="M534,109.6 H558" stroke="#9999ff" stroke-width="2.6" fill="none"/>
<g clip-path="url(#crf)">
<path d="M1130.5,405 L1132.87,402.73 L1135.24,400.46 L1137.61,398.19 L1139.97,395.92 L1142.34,393.65 L1144.71,391.38 L1147.08,389.11 L1149.45,386.85 L1151.82,384.58 L1154.19,382.31 L1156.55,380.05 L1158.92,377.78 L1161.29,375.52 L1163.66,373.26 L1166.03,370.99 L1168.4,368.73 L1170.77,366.47 L1173.13,364.21 L1175.5,361.95 L1177.87,359.69 L1180.24,357.43 L1182.61,355.17 L1184.98,352.92 L1187.35,350.66 L1189.71,348.4 L1192.08,346.15 L1194.45,343.89 L1196.82,341.64 L1199.19,339.39 L1201.56,337.13 L1203.93,334.88 L1206.29,332.63 L1208.66,330.38 L1211.03,328.13 L1213.4,325.88 L1215.77,323.63 L1218.14,321.38 L1220.51,319.13 L1222.87,316.89 L1225.24,314.64 L1227.61,312.39 L1229.98,310.15 L1232.35,307.91 L1234.72,305.66 L1237.08,303.42 L1239.45,301.18 L1241.82,298.93 L1244.19,296.69 L1246.56,294.45 L1248.93,292.21 L1251.3,289.97 L1253.66,287.74 L1256.03,285.5 L1258.4,283.26 L1260.77,281.02 L1263.14,278.79 L1265.51,276.55 L1267.88,274.32 L1270.24,272.08 L1272.61,269.85 L1274.98,267.62 L1277.35,265.39 L1279.72,263.15 L1282.09,260.92 L1284.46,258.69 L1286.82,256.46 L1289.19,254.24 L1291.56,252.01 L1293.93,249.78 L1296.3,247.55 L1298.67,245.33 L1301.04,243.1 L1303.4,240.88 L1305.77,238.65 L1308.14,236.43 L1310.51,234.21 L1312.88,231.98 L1315.25,229.76 L1317.62,227.54 L1319.98,225.32 L1322.35,223.1 L1324.72,220.88 L1327.09,218.66 L1329.46,216.45 L1331.83,214.23 L1334.2,212.01 L1336.56,209.8 L1338.93,207.58 L1341.3,205.37 L1343.67,203.15 L1346.04,200.94 L1348.41,198.73 L1350.78,196.52 L1353.14,194.31 L1355.51,192.1 L1357.88,189.89 L1360.25,187.68 L1362.62,185.47 L1364.99,183.26 L1367.36,181.05 L1369.72,178.85 L1372.09,176.64 L1374.46,174.44 L1376.83,172.23 L1379.2,170.03 L1381.57,167.82 L1383.94,165.62 L1386.3,163.42 L1388.67,161.22 L1391.04,159.02 L1393.41,156.82 L1395.78,154.62 L1398.15,152.42 L1400.52,150.22 L1402.88,148.02 L1405.25,145.83 L1407.62,143.63 L1409.99,141.44 L1412.36,139.24 L1414.73,137.05 L1417.09,134.85 L1419.46,132.66 L1421.83,130.47 L1424.2,128.28 L1426.57,126.08 L1428.94,123.89 L1431.31,121.71 L1433.67,119.52 L1436.04,117.33 L1438.41,115.14 L1440.78,112.95 L1443.15,110.77 L1445.52,108.58 L1447.89,106.4 L1450.25,104.21 L1452.62,102.03 L1454.99,99.84 L1457.36,97.66 L1459.73,95.48 L1462.1,93.3 L1464.47,91.12 L1466.83,88.94 L1469.2,86.76 L1471.57,84.58 L1473.94,82.4 L1476.31,80.23 L1478.68,78.05 L1481.05,75.87 L1482.68,77.2 L1482.02,81.41 L1481.37,85.63 L1480.72,89.84 L1480.07,94.05 L1479.42,98.26 L1478.78,102.48 L1478.13,106.69 L1477.49,110.9 L1476.85,115.11 L1476.2,119.33 L1475.56,123.54 L1474.92,127.75 L1474.28,131.96 L1473.64,136.18 L1473,140.39 L1472.36,144.6 L1471.72,148.82 L1471.08,153.03 L1470.44,157.24 L1469.79,161.45 L1469.15,165.67 L1468.51,169.88 L1467.86,174.09 L1467.22,178.3 L1466.57,182.52 L1465.93,186.73 L1465.28,190.94 L1464.63,195.15 L1463.98,199.37 L1463.32,203.58 L1462.67,207.79 L1462.01,212.01 L1461.35,216.22 L1461.62,218.31 L1464.01,216.36 L1466.41,214.39 L1468.8,212.4 L1471.19,210.4 L1473.59,208.38 L1475.98,206.35 L1478.38,204.3 L1480.77,202.24 L1483.16,200.16 L1485.56,198.07 L1487.95,195.96 L1489.81,199.7 L1488.92,202.36 L1488.04,205.02 L1487.18,207.69 L1486.34,210.35 L1485.52,213.01 L1484.72,215.67 L1483.93,218.33 L1483.15,221 L1482.39,223.66 L1481.65,226.32 L1480.92,228.98 L1480.2,231.64 L1479.5,234.31 L1478.81,236.97 L1478.14,239.63 L1477.48,242.29 L1476.82,244.95 L1476.19,247.62 L1475.56,250.28 L1474.94,252.94 L1474.33,255.6 L1473.74,258.26 L1473.15,260.93 L1472.58,263.59 L1472.01,266.25 L1471.45,268.91 L1470.9,271.57 L1470.35,274.24 L1469.82,276.9 L1469.29,279.56 L1468.77,282.22 L1468.25,284.88 L1467.74,287.55 L1467.24,290.21 L1466.74,292.87 L1466.24,295.53 L1465.75,298.19 L1465.26,300.86 L1464.78,303.52 L1464.3,306.18 L1463.82,308.84 L1463.34,311.51 L1462.87,314.17 L1462.4,316.83 L1461.93,319.49 L1461.46,322.15 L1460.99,324.82 L1460.52,327.48 L1460.04,330.14 L1459.57,332.8 L1459.1,335.46 L1458.62,338.13 L1458.15,340.79 L1457.67,343.45 L1457.18,346.11 L1456.7,348.77 L1456.21,351.44 L1455.72,354.1 L1455.22,356.76 L1454.71,359.42 L1454.21,362.08 L1453.69,364.75 L1453.17,367.41 L1452.65,370.07 L1452.11,372.73 L1451.57,375.39 L1451.02,378.06 L1450.47,380.72 L1449.9,383.38 L1449.33,386.04 L1448.75,388.7 L1448.15,391.37 L1447.55,394.03 L1446.94,396.69 L1446.32,399.35 L1445.68,402.01 L1445.03,404.68 L1444.38,407.34 L1443.7,410Z" fill="#f2f2f2"/>
<path d="M1007.5,407.59 L1009.17,406.83 L1010.84,406.06 L1012.51,405.3 L1014.18,404.53 L1015.85,403.77 L1017.53,403 L1019.2,402.23 L1020.87,401.46 L1022.54,400.69 L1024.21,399.92 L1025.88,399.14 L1027.55,398.37 L1029.22,397.59 L1030.89,396.81 L1032.56,396.03 L1034.23,395.25 L1035.91,394.47 L1037.58,393.69 L1039.25,392.91 L1040.92,392.12 L1042.59,391.33 L1044.26,390.55 L1045.93,389.76 L1047.6,388.96 L1049.27,388.17 L1050.94,387.38 L1052.61,386.58 L1054.29,385.78 L1055.96,384.98 L1057.63,384.18 L1059.3,383.38 L1060.97,382.58 L1062.64,381.77 L1064.31,380.96 L1065.98,380.15 L1067.65,379.34 L1069.32,378.53 L1070.99,377.71 L1072.67,376.9 L1074.34,376.08 L1076.01,375.26 L1077.68,374.43 L1079.35,373.61 L1081.02,372.78 L1082.69,371.95 L1084.36,371.12 L1086.03,370.29 L1087.7,369.45 L1089.37,368.62 L1091.05,367.78 L1092.72,366.94 L1094.39,366.09 L1096.06,365.25 L1097.73,364.4 L1099.4,363.55 L1101.07,362.7 L1102.74,361.84 L1104.41,360.98 L1106.08,360.12 L1107.75,359.26 L1109.43,358.4 L1111.1,357.53 L1112.77,356.66 L1114.44,355.79 L1116.11,354.91 L1117.78,354.04 L1119.45,353.16 L1121.12,352.28 L1122.79,351.39 L1124.46,350.5 L1126.13,349.61 L1127.81,348.72 L1129.48,347.83 L1131.15,346.93 L1132.82,346.03 L1134.49,345.12 L1136.16,344.22 L1137.83,343.31 L1139.5,342.39 L1141.17,341.48 L1142.84,340.56 L1144.51,339.64 L1146.18,338.72 L1147.86,337.79 L1149.53,336.86 L1151.2,335.93 L1152.87,334.99 L1154.54,334.05 L1156.21,333.11 L1157.88,332.16 L1159.55,331.21 L1161.22,330.26 L1162.89,329.31 L1164.56,328.35 L1166.24,327.39 L1167.91,326.42 L1169.58,325.45 L1171.25,324.48 L1172.92,323.5 L1174.59,322.53 L1176.26,321.54 L1177.93,320.56 L1179.6,319.57 L1181.27,318.58 L1182.94,317.58 L1184.62,316.58 L1186.29,315.58 L1187.96,314.57 L1189.63,313.56 L1191.3,312.55 L1192.97,311.53 L1194.64,310.51 L1196.31,309.48 L1197.98,308.45 L1199.65,307.42 L1201.32,306.38 L1203,305.34 L1204.67,304.3 L1206.34,303.25 L1208.01,302.2 L1209.68,301.14 L1211.35,300.08 L1213.02,299.02 L1214.69,297.95 L1216.36,296.88 L1218.03,295.8 L1219.7,294.72 L1221.38,293.63 L1223.05,292.55 L1224.72,291.45 L1226.39,290.36 L1228.06,289.25 L1229.73,288.15 L1231.4,287.04 L1233.07,285.92 L1234.74,284.81 L1236.41,283.68 L1238.08,282.55 L1239.76,281.42 L1241.43,280.29 L1243.1,279.14 L1244.77,278 L1246.44,276.85 L1248.11,275.7 L1249.78,274.53 L1251.45,273.37 L1253.12,272.2 L1254.79,271.03 L1256.46,269.85 L1258.14,268.67 L1259.81,267.48 L1261.48,266.29 L1263.15,265.09 L1264.82,263.89 L1266.49,262.68 L1268.16,261.47 L1269.83,260.26 L1271.5,259.03 L1273.17,257.81 L1274.84,256.58 L1276.52,255.34 L1278.19,254.1 L1279.86,252.85 L1281.53,251.6 L1283.2,250.34 L1284.87,249.08 L1286.54,247.81 L1288.21,246.54 L1289.88,245.26 L1291.55,243.98 L1293.22,242.69 L1294.9,241.4 L1296.57,240.1 L1298.24,238.79 L1299.91,237.48 L1301.58,236.17 L1303.25,234.85 L1304.92,233.52 L1306.59,232.19 L1308.26,230.85 L1309.93,229.51 L1311.6,228.16 L1313.28,226.81 L1314.95,225.45 L1316.62,224.08 L1318.29,222.71 L1319.96,221.33 L1321.63,219.95 L1323.3,218.56 L1324.97,217.17 L1326.64,215.77 L1328.31,214.36 L1329.98,212.95 L1331.66,211.53 L1333.33,210.11 L1335,208.67 L1336.67,207.24 L1338.34,205.8 L1340.01,204.35 L1341.68,202.89 L1343.35,201.43 L1345.02,199.97 L1346.69,198.49 L1348.36,197.01 L1350.04,195.53 L1351.71,194.04 L1353.38,192.54 L1355.05,191.04 L1356.72,189.52 L1358.39,188.01 L1360.06,186.48 L1361.73,184.96 L1363.4,183.42 L1365.07,181.88 L1366.74,180.32 L1368.42,178.77 L1370.09,177.21 L1371.76,175.64 L1373.43,174.06 L1375.1,172.48 L1376.77,170.89 L1378.44,169.29 L1380.11,167.69 L1381.78,166.08 L1383.45,164.46 L1385.12,162.84 L1386.79,161.21 L1388.47,159.57 L1390.14,157.93 L1391.81,156.28 L1393.48,154.62 L1395.15,152.95 L1396.82,151.28 L1398.49,149.6 L1400.16,147.92 L1401.83,146.22 L1403.5,144.52 L1405.17,142.81 L1406.85,141.1 L1408.52,139.38 L1410.19,137.65 L1411.86,135.91 L1413.53,134.16 L1415.2,132.41 L1416.87,130.65 L1418.54,128.89 L1420.21,127.11 L1421.88,125.33 L1423.55,123.54 L1425.23,121.75 L1426.9,119.94 L1428.57,118.13 L1430.24,116.31 L1431.91,114.48 L1433.58,112.65 L1435.25,110.81 L1436.92,108.96 L1438.59,107.1 L1440.26,105.23 L1441.93,103.36 L1443.61,101.48 L1445.28,99.58 L1446.95,97.69 L1448.62,95.78 L1450.29,93.87 L1451.96,91.95 L1453.63,90.02 L1455.3,88.08 L1456.97,86.14 L1458.64,84.18 L1460.31,82.22 L1461.99,80.25 L1463.66,78.27 L1465.33,76.28 L1467,74.29 L1468.67,72.28 L1470.34,70.27 L1472.01,68.25 L1473.68,66.22 L1475.35,64.19 L1477.02,62.14 L1478.69,60.09 L1480.37,58.02 L1482.04,55.95 L1483.71,53.87 L1485.38,51.79 L1487.05,49.69 L1488.72,47.58 L1490.39,45.47 L1492.06,43.34 L1493.73,41.21 L1495.4,39.07 L1497.07,36.92 L1498.75,34.76 L1500.42,32.6 L1502.09,30.42 L1503.76,28.24 L1505.43,26.04 L1507.1,23.84 L1507.1,51.98 L1505.43,53.51 L1503.76,55.04 L1502.09,56.57 L1500.42,58.1 L1498.75,59.63 L1497.07,61.17 L1495.4,62.7 L1493.73,64.23 L1492.06,65.76 L1490.39,67.3 L1488.72,68.83 L1487.05,70.36 L1485.38,71.9 L1483.71,73.43 L1482.04,74.96 L1480.37,76.5 L1478.69,78.03 L1477.02,79.57 L1475.35,81.11 L1473.68,82.64 L1472.01,84.18 L1470.34,85.71 L1468.67,87.25 L1467,88.79 L1465.33,90.33 L1463.66,91.86 L1461.99,93.4 L1460.31,94.94 L1458.64,96.48 L1456.97,98.02 L1455.3,99.56 L1453.63,101.1 L1451.96,102.64 L1450.29,104.18 L1448.62,105.72 L1446.95,107.26 L1445.28,108.8 L1443.61,110.35 L1441.93,111.89 L1440.26,113.43 L1438.59,114.97 L1436.92,116.52 L1435.25,118.06 L1433.58,119.6 L1431.91,121.15 L1430.24,122.69 L1428.57,124.24 L1426.9,125.78 L1425.23,127.33 L1423.55,128.87 L1421.88,130.42 L1420.21,131.97 L1418.54,133.51 L1416.87,135.06 L1415.2,136.61 L1413.53,138.15 L1411.86,139.7 L1410.19,141.25 L1408.52,142.8 L1406.85,144.35 L1405.17,145.9 L1403.5,147.45 L1401.83,149 L1400.16,150.55 L1398.49,152.1 L1396.82,153.65 L1395.15,155.2 L1393.48,156.75 L1391.81,158.3 L1390.14,159.86 L1388.47,161.41 L1386.79,162.96 L1385.12,164.52 L1383.45,166.07 L1381.78,167.62 L1380.11,169.18 L1378.44,170.73 L1376.77,172.29 L1375.1,173.84 L1373.43,175.4 L1371.76,176.95 L1370.09,178.51 L1368.42,180.07 L1366.74,181.62 L1365.07,183.18 L1363.4,184.74 L1361.73,186.3 L1360.06,187.85 L1358.39,189.41 L1356.72,190.97 L1355.05,192.53 L1353.38,194.09 L1351.71,195.65 L1350.04,197.21 L1348.36,198.77 L1346.69,200.33 L1345.02,201.89 L1343.35,203.45 L1341.68,205.01 L1340.01,206.58 L1338.34,208.14 L1336.67,209.7 L1335,211.26 L1333.33,212.83 L1331.66,214.39 L1329.98,215.95 L1328.31,217.52 L1326.64,219.08 L1324.97,220.65 L1323.3,222.21 L1321.63,223.78 L1319.96,225.35 L1318.29,226.91 L1316.62,228.48 L1314.95,230.05 L1313.28,231.61 L1311.6,233.18 L1309.93,234.75 L1308.26,236.32 L1306.59,237.88 L1304.92,239.45 L1303.25,241.02 L1301.58,242.59 L1299.91,244.16 L1298.24,245.73 L1296.57,247.3 L1294.9,248.87 L1293.22,250.44 L1291.55,252.02 L1289.88,253.59 L1288.21,255.16 L1286.54,256.73 L1284.87,258.3 L1283.2,259.88 L1281.53,261.45 L1279.86,263.02 L1278.19,264.6 L1276.52,266.17 L1274.84,267.75 L1273.17,269.32 L1271.5,270.9 L1269.83,272.47 L1268.16,274.05 L1266.49,275.63 L1264.82,277.2 L1263.15,278.78 L1261.48,280.36 L1259.81,281.93 L1258.14,283.51 L1256.46,285.09 L1254.79,286.67 L1253.12,288.25 L1251.45,289.83 L1249.78,291.41 L1248.11,292.99 L1246.44,294.57 L1244.77,296.15 L1243.1,297.73 L1241.43,299.31 L1239.76,300.89 L1238.08,302.47 L1236.41,304.05 L1234.74,305.64 L1233.07,307.22 L1231.4,308.8 L1229.73,310.39 L1228.06,311.97 L1226.39,313.55 L1224.72,315.14 L1223.05,316.72 L1221.38,318.31 L1219.7,319.89 L1218.03,321.48 L1216.36,323.06 L1214.69,324.65 L1213.02,326.24 L1211.35,327.82 L1209.68,329.41 L1208.01,331 L1206.34,332.59 L1204.67,334.18 L1203,335.76 L1201.32,337.35 L1199.65,338.94 L1197.98,340.53 L1196.31,342.12 L1194.64,343.71 L1192.97,345.3 L1191.3,346.89 L1189.63,348.49 L1187.96,350.08 L1186.29,351.67 L1184.62,353.26 L1182.94,354.85 L1181.27,356.45 L1179.6,358.04 L1177.93,359.63 L1176.26,361.23 L1174.59,362.82 L1172.92,364.42 L1171.25,366.01 L1169.58,367.61 L1167.91,369.2 L1166.24,370.8 L1164.56,372.39 L1162.89,373.99 L1161.22,375.59 L1159.55,377.18 L1157.88,378.78 L1156.21,380.38 L1154.54,381.98 L1152.87,383.57 L1151.2,385.17 L1149.53,386.77 L1147.86,388.37 L1146.18,389.97 L1144.51,391.57 L1142.84,393.17 L1141.17,394.77 L1139.5,396.37 L1137.83,397.97 L1136.16,399.58 L1134.49,401.18 L1132.82,402.78 L1131.15,404.38 L1129.48,407 L1127.81,407 L1126.13,407 L1124.46,407 L1122.79,407 L1121.12,407 L1119.45,407 L1117.78,407 L1116.11,407 L1114.44,407 L1112.77,407 L1111.1,407 L1109.43,407 L1107.75,407 L1106.08,407 L1104.41,407 L1102.74,407 L1101.07,407 L1099.4,407 L1097.73,407 L1096.06,407 L1094.39,407 L1092.72,407 L1091.05,407 L1089.37,407 L1087.7,407 L1086.03,407 L1084.36,407 L1082.69,407 L1081.02,407 L1079.35,407 L1077.68,407 L1076.01,407 L1074.34,407 L1072.67,407 L1070.99,407 L1069.32,407 L1067.65,407 L1065.98,407 L1064.31,407 L1062.64,407 L1060.97,407 L1059.3,407 L1057.63,407 L1055.96,407 L1054.29,407 L1052.61,407 L1050.94,407 L1049.27,407 L1047.6,407 L1045.93,407 L1044.26,407 L1042.59,407 L1040.92,407 L1039.25,407 L1037.58,407 L1035.91,407 L1034.23,407 L1032.56,407 L1030.89,407 L1029.22,407 L1027.55,407 L1025.88,407 L1024.21,407 L1022.54,407 L1020.87,407 L1019.2,407 L1017.53,407 L1015.85,407 L1014.18,407 L1012.51,407 L1010.84,407 L1009.17,407 L1007.5,407.59Z" fill="#999999"/>
</g><g clip-path="url(#cr)">
<path d="M1426.51,410 L1427.41,405.79 L1428.29,401.57 L1429.17,397.36 L1430.04,393.15 L1430.91,388.94 L1431.76,384.72 L1432.61,380.51 L1433.45,376.3 L1434.29,372.09 L1435.12,367.87 L1435.94,363.66 L1436.75,359.45 L1437.56,355.24 L1438.36,351.02 L1439.16,346.81 L1439.94,342.6 L1440.73,338.38 L1441.5,334.17 L1442.27,329.96 L1443.04,325.75 L1443.8,321.53 L1444.55,317.32 L1445.3,313.11 L1446.05,308.9 L1446.78,304.68 L1447.52,300.47 L1448.25,296.26 L1448.97,292.05 L1449.69,287.83 L1450.41,283.62 L1451.12,279.41 L1451.82,275.19 L1452.53,270.98 L1453.22,266.77 L1453.92,262.56 L1454.61,258.34 L1455.3,254.13 L1455.98,249.92 L1456.66,245.71 L1457.34,241.49 L1458.02,237.28 L1458.69,233.07 L1459.36,228.86 L1460.03,224.64 L1460.69,220.43 L1461.35,216.22 L1462.01,212.01 L1462.67,207.79 L1463.32,203.58 L1463.98,199.37 L1464.63,195.15 L1465.28,190.94 L1465.93,186.73 L1466.57,182.52 L1467.22,178.3 L1467.86,174.09 L1468.51,169.88 L1469.15,165.67 L1469.79,161.45 L1470.44,157.24 L1471.08,153.03 L1471.72,148.82 L1472.36,144.6 L1473,140.39 L1473.64,136.18 L1474.28,131.96 L1474.92,127.75 L1475.56,123.54 L1476.2,119.33 L1476.85,115.11 L1477.49,110.9 L1478.13,106.69 L1478.78,102.48 L1479.42,98.26 L1480.07,94.05 L1480.72,89.84 L1481.37,85.63 L1482.02,81.41 L1482.68,77.2" fill="none" stroke="#000" stroke-width="1.9" stroke-dasharray="3.1 3.05"/>
<path d="M1443.7,410 L1444.38,407.34 L1445.03,404.68 L1445.68,402.01 L1446.32,399.35 L1446.94,396.69 L1447.55,394.03 L1448.15,391.37 L1448.75,388.7 L1449.33,386.04 L1449.9,383.38 L1450.47,380.72 L1451.02,378.06 L1451.57,375.39 L1452.11,372.73 L1452.65,370.07 L1453.17,367.41 L1453.69,364.75 L1454.21,362.08 L1454.71,359.42 L1455.22,356.76 L1455.72,354.1 L1456.21,351.44 L1456.7,348.77 L1457.18,346.11 L1457.67,343.45 L1458.15,340.79 L1458.62,338.13 L1459.1,335.46 L1459.57,332.8 L1460.04,330.14 L1460.52,327.48 L1460.99,324.82 L1461.46,322.15 L1461.93,319.49 L1462.4,316.83 L1462.87,314.17 L1463.34,311.51 L1463.82,308.84 L1464.3,306.18 L1464.78,303.52 L1465.26,300.86 L1465.75,298.19 L1466.24,295.53 L1466.74,292.87 L1467.24,290.21 L1467.74,287.55 L1468.25,284.88 L1468.77,282.22 L1469.29,279.56 L1469.82,276.9 L1470.35,274.24 L1470.9,271.57 L1471.45,268.91 L1472.01,266.25 L1472.58,263.59 L1473.15,260.93 L1473.74,258.26 L1474.33,255.6 L1474.94,252.94 L1475.56,250.28 L1476.19,247.62 L1476.82,244.95 L1477.48,242.29 L1478.14,239.63 L1478.81,236.97 L1479.5,234.31 L1480.2,231.64 L1480.92,228.98 L1481.65,226.32 L1482.39,223.66 L1483.15,221 L1483.93,218.33 L1484.72,215.67 L1485.52,213.01 L1486.34,210.35 L1487.18,207.69 L1488.04,205.02 L1488.92,202.36 L1489.81,199.7" fill="none" stroke="#000" stroke-width="1.9" stroke-dasharray="3.1 3.05"/>
<path d="M1126.5,407.68 L1128.89,406.6 L1131.29,405.51 L1133.68,404.43 L1136.07,403.35 L1138.47,402.27 L1140.86,401.18 L1143.26,400.1 L1145.65,399.01 L1148.04,397.92 L1150.44,396.84 L1152.83,395.75 L1155.22,394.66 L1157.62,393.57 L1160.01,392.47 L1162.41,391.38 L1164.8,390.28 L1167.19,389.19 L1169.59,388.09 L1171.98,386.99 L1174.37,385.89 L1176.77,384.79 L1179.16,383.69 L1181.56,382.58 L1183.95,381.47 L1186.34,380.36 L1188.74,379.25 L1191.13,378.14 L1193.52,377.03 L1195.92,375.91 L1198.31,374.79 L1200.71,373.67 L1203.1,372.55 L1205.49,371.42 L1207.89,370.29 L1210.28,369.16 L1212.67,368.03 L1215.07,366.89 L1217.46,365.75 L1219.85,364.61 L1222.25,363.47 L1224.64,362.32 L1227.04,361.17 L1229.43,360.02 L1231.82,358.86 L1234.22,357.7 L1236.61,356.54 L1239,355.37 L1241.4,354.2 L1243.79,353.03 L1246.19,351.85 L1248.58,350.67 L1250.97,349.49 L1253.37,348.3 L1255.76,347.11 L1258.15,345.91 L1260.55,344.71 L1262.94,343.5 L1265.34,342.29 L1267.73,341.08 L1270.12,339.86 L1272.52,338.64 L1274.91,337.41 L1277.3,336.18 L1279.7,334.94 L1282.09,333.7 L1284.48,332.45 L1286.88,331.2 L1289.27,329.94 L1291.67,328.68 L1294.06,327.41 L1296.45,326.14 L1298.85,324.86 L1301.24,323.57 L1303.63,322.28 L1306.03,320.98 L1308.42,319.68 L1310.82,318.37 L1313.21,317.05 L1315.6,315.73 L1318,314.4 L1320.39,313.07 L1322.78,311.73 L1325.18,310.38 L1327.57,309.02 L1329.97,307.66 L1332.36,306.29 L1334.75,304.91 L1337.15,303.53 L1339.54,302.14 L1341.93,300.74 L1344.33,299.33 L1346.72,297.91 L1349.12,296.49 L1351.51,295.06 L1353.9,293.62 L1356.3,292.17 L1358.69,290.72 L1361.08,289.25 L1363.48,287.78 L1365.87,286.3 L1368.26,284.81 L1370.66,283.31 L1373.05,281.8 L1375.45,280.28 L1377.84,278.75 L1380.23,277.21 L1382.63,275.67 L1385.02,274.11 L1387.41,272.54 L1389.81,270.97 L1392.2,269.38 L1394.6,267.78 L1396.99,266.17 L1399.38,264.56 L1401.78,262.93 L1404.17,261.29 L1406.56,259.64 L1408.96,257.97 L1411.35,256.3 L1413.75,254.62 L1416.14,252.92 L1418.53,251.21 L1420.93,249.49 L1423.32,247.76 L1425.71,246.02 L1428.11,244.26 L1430.5,242.49 L1432.89,240.71 L1435.29,238.92 L1437.68,237.11 L1440.08,235.29 L1442.47,233.46 L1444.86,231.62 L1447.26,229.76 L1449.65,227.89 L1452.04,226 L1454.44,224.1 L1456.83,222.18 L1459.23,220.26 L1461.62,218.31 L1464.01,216.36 L1466.41,214.39 L1468.8,212.4 L1471.19,210.4 L1473.59,208.38 L1475.98,206.35 L1478.38,204.3 L1480.77,202.24 L1483.16,200.16 L1485.56,198.07 L1487.95,195.96 L1490.34,193.83 L1492.74,191.69 L1495.13,189.53 L1497.53,187.35 L1499.92,185.16 L1502.31,182.95 L1504.71,180.72 L1507.1,178.47" fill="none" stroke="#000" stroke-width="6.8"/>
<path d="M1130.5,405 L1132.87,402.73 L1135.24,400.46 L1137.61,398.19 L1139.97,395.92 L1142.34,393.65 L1144.71,391.38 L1147.08,389.11 L1149.45,386.85 L1151.82,384.58 L1154.19,382.31 L1156.55,380.05 L1158.92,377.78 L1161.29,375.52 L1163.66,373.26 L1166.03,370.99 L1168.4,368.73 L1170.77,366.47 L1173.13,364.21 L1175.5,361.95 L1177.87,359.69 L1180.24,357.43 L1182.61,355.17 L1184.98,352.92 L1187.35,350.66 L1189.71,348.4 L1192.08,346.15 L1194.45,343.89 L1196.82,341.64 L1199.19,339.39 L1201.56,337.13 L1203.93,334.88 L1206.29,332.63 L1208.66,330.38 L1211.03,328.13 L1213.4,325.88 L1215.77,323.63 L1218.14,321.38 L1220.51,319.13 L1222.87,316.89 L1225.24,314.64 L1227.61,312.39 L1229.98,310.15 L1232.35,307.91 L1234.72,305.66 L1237.08,303.42 L1239.45,301.18 L1241.82,298.93 L1244.19,296.69 L1246.56,294.45 L1248.93,292.21 L1251.3,289.97 L1253.66,287.74 L1256.03,285.5 L1258.4,283.26 L1260.77,281.02 L1263.14,278.79 L1265.51,276.55 L1267.88,274.32 L1270.24,272.08 L1272.61,269.85 L1274.98,267.62 L1277.35,265.39 L1279.72,263.15 L1282.09,260.92 L1284.46,258.69 L1286.82,256.46 L1289.19,254.24 L1291.56,252.01 L1293.93,249.78 L1296.3,247.55 L1298.67,245.33 L1301.04,243.1 L1303.4,240.88 L1305.77,238.65 L1308.14,236.43 L1310.51,234.21 L1312.88,231.98 L1315.25,229.76 L1317.62,227.54 L1319.98,225.32 L1322.35,223.1 L1324.72,220.88 L1327.09,218.66 L1329.46,216.45 L1331.83,214.23 L1334.2,212.01 L1336.56,209.8 L1338.93,207.58 L1341.3,205.37 L1343.67,203.15 L1346.04,200.94 L1348.41,198.73 L1350.78,196.52 L1353.14,194.31 L1355.51,192.1 L1357.88,189.89 L1360.25,187.68 L1362.62,185.47 L1364.99,183.26 L1367.36,181.05 L1369.72,178.85 L1372.09,176.64 L1374.46,174.44 L1376.83,172.23 L1379.2,170.03 L1381.57,167.82 L1383.94,165.62 L1386.3,163.42 L1388.67,161.22 L1391.04,159.02 L1393.41,156.82 L1395.78,154.62 L1398.15,152.42 L1400.52,150.22 L1402.88,148.02 L1405.25,145.83 L1407.62,143.63 L1409.99,141.44 L1412.36,139.24 L1414.73,137.05 L1417.09,134.85 L1419.46,132.66 L1421.83,130.47 L1424.2,128.28 L1426.57,126.08 L1428.94,123.89 L1431.31,121.71 L1433.67,119.52 L1436.04,117.33 L1438.41,115.14 L1440.78,112.95 L1443.15,110.77 L1445.52,108.58 L1447.89,106.4 L1450.25,104.21 L1452.62,102.03 L1454.99,99.84 L1457.36,97.66 L1459.73,95.48 L1462.1,93.3 L1464.47,91.12 L1466.83,88.94 L1469.2,86.76 L1471.57,84.58 L1473.94,82.4 L1476.31,80.23 L1478.68,78.05 L1481.05,75.87 L1483.41,73.7 L1485.78,71.52 L1488.15,69.35 L1490.52,67.18 L1492.89,65 L1495.26,62.83 L1497.63,60.66 L1499.99,58.49 L1502.36,56.32 L1504.73,54.15 L1507.1,51.98" fill="none" stroke="#000" stroke-width="3.7" stroke-dasharray="8.6 1.7 4.2 1.7"/>
<path d="M1004.5,408.96 L1007.66,407.52 L1010.82,406.07 L1013.98,404.62 L1017.14,403.17 L1020.31,401.72 L1023.47,400.26 L1026.63,398.8 L1029.79,397.33 L1032.95,395.86 L1036.11,394.38 L1039.27,392.9 L1042.43,391.41 L1045.59,389.92 L1048.75,388.42 L1051.92,386.91 L1055.08,385.41 L1058.24,383.89 L1061.4,382.37 L1064.56,380.84 L1067.72,379.31 L1070.88,377.77 L1074.04,376.22 L1077.2,374.67 L1080.36,373.11 L1083.53,371.54 L1086.69,369.96 L1089.85,368.38 L1093.01,366.79 L1096.17,365.19 L1099.33,363.58 L1102.49,361.97 L1105.65,360.35 L1108.81,358.72 L1111.97,357.07 L1115.14,355.43 L1118.3,353.77 L1121.46,352.1 L1124.62,350.42 L1127.78,348.74 L1130.94,347.04 L1134.1,345.33 L1137.26,343.62 L1140.42,341.89 L1143.58,340.15 L1146.75,338.41 L1149.91,336.65 L1153.07,334.88 L1156.23,333.1 L1159.39,331.31 L1162.55,329.5 L1165.71,327.69 L1168.87,325.86 L1172.03,324.02 L1175.19,322.17 L1178.36,320.31 L1181.52,318.43 L1184.68,316.55 L1187.84,314.65 L1191,312.73 L1194.16,310.8 L1197.32,308.86 L1200.48,306.91 L1203.64,304.94 L1206.8,302.96 L1209.97,300.96 L1213.13,298.95 L1216.29,296.93 L1219.45,294.89 L1222.61,292.83 L1225.77,290.76 L1228.93,288.68 L1232.09,286.58 L1235.25,284.46 L1238.41,282.33 L1241.58,280.19 L1244.74,278.02 L1247.9,275.84 L1251.06,273.65 L1254.22,271.43 L1257.38,269.21 L1260.54,266.96 L1263.7,264.7 L1266.86,262.41 L1270.02,260.12 L1273.19,257.8 L1276.35,255.47 L1279.51,253.11 L1282.67,250.74 L1285.83,248.35 L1288.99,245.95 L1292.15,243.52 L1295.31,241.07 L1298.47,238.61 L1301.63,236.13 L1304.8,233.62 L1307.96,231.1 L1311.12,228.56 L1314.28,225.99 L1317.44,223.41 L1320.6,220.8 L1323.76,218.18 L1326.92,215.53 L1330.08,212.87 L1333.24,210.18 L1336.41,207.47 L1339.57,204.73 L1342.73,201.98 L1345.89,199.21 L1349.05,196.41 L1352.21,193.59 L1355.37,190.74 L1358.53,187.88 L1361.69,184.99 L1364.85,182.08 L1368.02,179.14 L1371.18,176.18 L1374.34,173.2 L1377.5,170.2 L1380.66,167.16 L1383.82,164.11 L1386.98,161.03 L1390.14,157.92 L1393.3,154.8 L1396.46,151.64 L1399.63,148.46 L1402.79,145.25 L1405.95,142.02 L1409.11,138.77 L1412.27,135.48 L1415.43,132.17 L1418.59,128.84 L1421.75,125.47 L1424.91,122.08 L1428.07,118.67 L1431.24,115.22 L1434.4,111.75 L1437.56,108.25 L1440.72,104.72 L1443.88,101.17 L1447.04,97.58 L1450.2,93.97 L1453.36,90.33 L1456.52,86.66 L1459.68,82.96 L1462.85,79.23 L1466.01,75.47 L1469.17,71.69 L1472.33,67.87 L1475.49,64.02 L1478.65,60.14 L1481.81,56.23 L1484.97,52.29 L1488.13,48.32 L1491.29,44.32 L1494.46,40.29 L1497.62,36.22 L1500.78,32.13 L1503.94,28 L1507.1,23.84" fill="none" stroke="#000" stroke-width="13.6"/>
</g>
<rect x="932.4" y="23.3" width="315.0000000000001" height="194.1" fill="#fff"/>
<g clip-path="url(#cri)">
<path d="M932.4,99.18 L937.77,98.39 L943.15,97.6 L948.52,96.81 L953.9,96.01 L959.27,95.21 L964.65,94.4 L970.02,93.59 L975.4,92.78 L980.77,91.96 L986.15,91.15 L991.52,90.32 L996.89,89.5 L1002.27,88.67 L1007.64,87.83 L1013.02,87 L1018.39,86.16 L1023.77,85.31 L1029.14,84.47 L1034.52,83.61 L1039.89,82.76 L1045.27,81.9 L1050.64,81.04 L1056.02,80.18 L1061.39,79.31 L1066.76,78.44 L1072.14,77.56 L1077.51,76.68 L1082.89,75.8 L1088.26,74.92 L1093.64,74.03 L1099.01,73.13 L1104.39,72.24 L1109.76,71.34 L1115.14,70.44 L1120.51,69.53 L1125.88,68.62 L1131.26,67.71 L1136.63,66.79 L1142.01,65.87 L1147.38,64.94 L1152.76,64.02 L1158.13,63.09 L1163.51,62.15 L1168.88,61.21 L1174.26,60.27 L1179.63,59.33 L1185.01,58.38 L1190.38,57.43 L1195.75,56.47 L1201.13,55.51 L1206.5,54.55 L1211.88,53.59 L1217.25,52.62 L1222.63,51.64 L1225.3,56.2 L1222.92,58.47 L1220.55,60.75 L1218.19,63.05 L1215.86,65.36 L1213.54,67.69 L1211.23,70.03 L1208.94,72.39 L1206.67,74.75 L1204.41,77.14 L1202.16,79.53 L1199.95,81.95 L1197.76,84.4 L1195.6,86.88 L1193.46,89.37 L1191.31,91.86 L1189.16,94.35 L1187,96.82 L1184.81,99.27 L1182.6,101.7 L1180.39,104.14 L1178.18,106.57 L1175.96,109.01 L1173.74,111.43 L1171.51,113.85 L1169.27,116.26 L1167.01,118.65 L1164.73,121.02 L1162.44,123.38 L1160.13,125.7 L1157.79,128 L1155.42,130.26 L1153.02,132.5 L1150.59,134.71 L1148.13,136.89 L1145.65,139.05 L1143.14,141.18 L1140.61,143.28 L1136.63,143.78 L1131.26,144.35 L1125.88,144.91 L1120.51,145.49 L1115.14,146.06 L1109.76,146.64 L1104.39,147.22 L1099.01,147.81 L1093.64,148.4 L1088.26,149 L1082.89,149.6 L1077.51,150.2 L1072.14,150.81 L1066.76,151.42 L1061.39,152.04 L1056.02,152.66 L1050.64,153.29 L1045.27,153.92 L1039.89,154.55 L1034.52,155.19 L1029.14,155.83 L1023.77,156.47 L1018.39,157.12 L1013.02,157.78 L1007.64,158.44 L1002.27,159.1 L996.89,159.76 L991.52,160.43 L986.15,161.11 L980.77,161.79 L975.4,162.47 L970.02,163.16 L964.65,163.85 L959.27,164.55 L953.9,165.25 L948.52,165.95 L943.15,166.66 L937.77,167.37 L932.4,168.09Z" fill="#ede6ee"/>
<path d="M932.4,168.09 L937.77,167.37 L943.15,166.66 L948.52,165.95 L953.9,165.25 L959.27,164.55 L964.65,163.85 L970.02,163.16 L975.4,162.47 L980.77,161.79 L986.15,161.11 L991.52,160.43 L996.89,159.76 L1002.27,159.1 L1007.64,158.44 L1013.02,157.78 L1018.39,157.12 L1023.77,156.47 L1029.14,155.83 L1034.52,155.19 L1039.89,154.55 L1045.27,153.92 L1050.64,153.29 L1056.02,152.66 L1061.39,152.04 L1066.76,151.42 L1072.14,150.81 L1077.51,150.2 L1082.89,149.6 L1088.26,149 L1093.64,148.4 L1099.01,147.81 L1104.39,147.22 L1109.76,146.64 L1115.14,146.06 L1120.51,145.49 L1125.88,144.91 L1131.26,144.35 L1136.63,143.78 L1142.01,143.23 L1147.38,142.67 L1152.76,142.12 L1158.13,141.58 L1163.51,141.03 L1168.88,140.5 L1174.26,139.96 L1179.63,139.43 L1185.01,138.91 L1190.38,138.39 L1195.75,137.87 L1201.13,137.36 L1206.5,136.85 L1211.88,136.34 L1217.25,135.84 L1222.63,135.35 L1228,134.85 L1233.38,134.36 L1238,134.4 L1236.2,135.16 L1234.45,136 L1232.78,136.95 L1231.15,137.99 L1229.56,139.1 L1227.99,140.27 L1226.45,141.48 L1224.94,142.73 L1223.45,143.99 L1221.98,145.26 L1220.52,146.54 L1219.09,147.84 L1217.67,149.17 L1216.27,150.53 L1214.89,151.91 L1213.53,153.31 L1212.2,154.73 L1210.88,156.16 L1209.58,157.6 L1208.3,159.05 L1207.05,160.53 L1205.81,162.02 L1204.59,163.53 L1203.38,165.05 L1202.18,166.59 L1201,168.14 L1199.83,169.69 L1198.66,171.25 L1197.5,172.82 L1196.34,174.38 L1195.19,175.95 L1194.04,177.51 L1192.91,179.09 L1191.79,180.68 L1190.68,182.27 L1189.58,183.88 L1188.49,185.48 L1187.39,187.09 L1186.3,188.7 L1185.2,190.31 L1184.1,191.91 L1182.99,193.5 L1181.87,195.09 L1180.73,196.66 L1179.58,198.23 L1178.42,199.79 L1177.25,201.34 L1176.08,202.89 L1174.9,204.43 L1173.71,205.97 L1172.53,207.51 L1171.34,209.05 L1170.14,210.58 L1168.95,212.12 L1167.76,213.65 L1166.57,215.19 L1165.38,216.73 L1164.19,218.26 L1163,219.8 L932.4,219.5Z" fill="#fee6fe"/>
<path d="M954,218.6 L957.23,217.98 L960.45,217.35 L963.68,216.73 L966.91,216.11 L970.13,215.49 L973.36,214.87 L976.59,214.24 L979.81,213.59 L983.03,212.94 L986.24,212.26 L989.45,211.56 L992.65,210.83 L995.85,210.09 L999.05,209.33 L1002.24,208.54 L1005.43,207.74 L1008.61,206.92 L1011.79,206.08 L1014.96,205.23 L1018.12,204.35 L1021.28,203.45 L1024.44,202.53 L1027.59,201.58 L1030.73,200.62 L1033.87,199.64 L1037,198.64 L1040.12,197.62 L1043.24,196.6 L1046.36,195.56 L1049.48,194.51 L1052.59,193.43 L1055.69,192.34 L1058.78,191.21 L1061.85,190.05 L1064.9,188.84 L1067.93,187.6 L1070.95,186.31 L1073.95,184.97 L1076.94,183.59 L1079.91,182.17 L1082.87,180.73 L1085.81,179.25 L1088.74,177.76 L1091.65,176.24 L1094.55,174.71 L1097.44,173.15 L1100.32,171.55 L1103.18,169.93 L1106.03,168.27 L1108.85,166.57 L1111.65,164.85 L1114.41,163.08 L1117.14,161.27 L1119.83,159.41 L1122.5,157.5 L1125.15,155.54 L1127.77,153.54 L1130.37,151.52 L1132.95,149.48 L1135.52,147.43 L1138.07,145.37 L1140.61,143.28 L1143.14,141.18 L1145.65,139.05 L1148.13,136.89 L1150.59,134.71 L1153.02,132.5 L1155.42,130.26 L1157.79,128 L1160.13,125.7 L1162.44,123.38 L1164.73,121.02 L1167.01,118.65 L1169.27,116.26 L1171.51,113.85 L1173.74,111.43 L1175.96,109.01 L1178.18,106.57 L1180.39,104.14 L1182.6,101.7 L1184.81,99.27 L1187,96.82 L1189.16,94.35 L1191.31,91.86 L1193.46,89.37 L1195.6,86.88 L1197.76,84.4 L1199.95,81.95 L1202.16,79.53 L1204.41,77.14 L1206.67,74.75 L1208.94,72.39 L1211.23,70.03 L1213.54,67.69 L1215.86,65.36 L1218.19,63.05 L1220.55,60.75 L1222.92,58.47 L1225.3,56.2" fill="none" stroke="#990099" stroke-width="1.3" stroke-dasharray="2.6 3.6"/>
<path d="M1163,219.8 L1164.19,218.26 L1165.38,216.73 L1166.57,215.19 L1167.76,213.65 L1168.95,212.12 L1170.14,210.58 L1171.34,209.05 L1172.53,207.51 L1173.71,205.97 L1174.9,204.43 L1176.08,202.89 L1177.25,201.34 L1178.42,199.79 L1179.58,198.23 L1180.73,196.66 L1181.87,195.09 L1182.99,193.5 L1184.1,191.91 L1185.2,190.31 L1186.3,188.7 L1187.39,187.09 L1188.49,185.48 L1189.58,183.88 L1190.68,182.27 L1191.79,180.68 L1192.91,179.09 L1194.04,177.51 L1195.19,175.95 L1196.34,174.38 L1197.5,172.82 L1198.66,171.25 L1199.83,169.69 L1201,168.14 L1202.18,166.59 L1203.38,165.05 L1204.59,163.53 L1205.81,162.02 L1207.05,160.53 L1208.3,159.05 L1209.58,157.6 L1210.88,156.16 L1212.2,154.73 L1213.53,153.31 L1214.89,151.91 L1216.27,150.53 L1217.67,149.17 L1219.09,147.84 L1220.52,146.54 L1221.98,145.26 L1223.45,143.99 L1224.94,142.73 L1226.45,141.48 L1227.99,140.27 L1229.56,139.1 L1231.15,137.99 L1232.78,136.95 L1234.45,136 L1236.2,135.16 L1238,134.4" fill="none" stroke="#990099" stroke-width="1.3" stroke-dasharray="2.6 3.6"/>
<path d="M932.4,99.18 L937.77,98.39 L943.15,97.6 L948.52,96.81 L953.9,96.01 L959.27,95.21 L964.65,94.4 L970.02,93.59 L975.4,92.78 L980.77,91.96 L986.15,91.15 L991.52,90.32 L996.89,89.5 L1002.27,88.67 L1007.64,87.83 L1013.02,87 L1018.39,86.16 L1023.77,85.31 L1029.14,84.47 L1034.52,83.61 L1039.89,82.76 L1045.27,81.9 L1050.64,81.04 L1056.02,80.18 L1061.39,79.31 L1066.76,78.44 L1072.14,77.56 L1077.51,76.68 L1082.89,75.8 L1088.26,74.92 L1093.64,74.03 L1099.01,73.13 L1104.39,72.24 L1109.76,71.34 L1115.14,70.44 L1120.51,69.53 L1125.88,68.62 L1131.26,67.71 L1136.63,66.79 L1142.01,65.87 L1147.38,64.94 L1152.76,64.02 L1158.13,63.09 L1163.51,62.15 L1168.88,61.21 L1174.26,60.27 L1179.63,59.33 L1185.01,58.38 L1190.38,57.43 L1195.75,56.47 L1201.13,55.51 L1206.5,54.55 L1211.88,53.59 L1217.25,52.62 L1222.63,51.64 L1228,50.67 L1233.38,49.69 L1238.75,48.7 L1244.13,47.72 L1249.5,46.73" fill="none" stroke="#990099" stroke-width="7.8"/>
<path d="M932.4,168.09 L937.77,167.37 L943.15,166.66 L948.52,165.95 L953.9,165.25 L959.27,164.55 L964.65,163.85 L970.02,163.16 L975.4,162.47 L980.77,161.79 L986.15,161.11 L991.52,160.43 L996.89,159.76 L1002.27,159.1 L1007.64,158.44 L1013.02,157.78 L1018.39,157.12 L1023.77,156.47 L1029.14,155.83 L1034.52,155.19 L1039.89,154.55 L1045.27,153.92 L1050.64,153.29 L1056.02,152.66 L1061.39,152.04 L1066.76,151.42 L1072.14,150.81 L1077.51,150.2 L1082.89,149.6 L1088.26,149 L1093.64,148.4 L1099.01,147.81 L1104.39,147.22 L1109.76,146.64 L1115.14,146.06 L1120.51,145.49 L1125.88,144.91 L1131.26,144.35 L1136.63,143.78 L1142.01,143.23 L1147.38,142.67 L1152.76,142.12 L1158.13,141.58 L1163.51,141.03 L1168.88,140.5 L1174.26,139.96 L1179.63,139.43 L1185.01,138.91 L1190.38,138.39 L1195.75,137.87 L1201.13,137.36 L1206.5,136.85 L1211.88,136.34 L1217.25,135.84 L1222.63,135.35 L1228,134.85 L1233.38,134.36 L1238.75,133.88 L1244.13,133.4 L1249.5,132.93" fill="none" stroke="#990099" stroke-width="3.7"/>
<path d="M932.4,84.04 L937.77,83.41 L943.15,82.78 L948.52,82.15 L953.9,81.52 L959.27,80.88 L964.65,80.25 L970.02,79.62 L975.4,78.99 L980.77,78.36 L986.15,77.73 L991.52,77.1 L996.89,76.47 L1002.27,75.83 L1007.64,75.2 L1013.02,74.57 L1018.39,73.94 L1023.77,73.31 L1029.14,72.68 L1034.52,72.05 L1039.89,71.42 L1045.27,70.79 L1050.64,70.15 L1056.02,69.52 L1061.39,68.89 L1066.76,68.26 L1072.14,67.63 L1077.51,67 L1082.89,66.37 L1088.26,65.74 L1093.64,65.1 L1099.01,64.47 L1104.39,63.84 L1109.76,63.21 L1115.14,62.58 L1120.51,61.95 L1125.88,61.32 L1131.26,60.69 L1136.63,60.06 L1142.01,59.42 L1147.38,58.79 L1152.76,58.16 L1158.13,57.53 L1163.51,56.9 L1168.88,56.27 L1174.26,55.64 L1179.63,55.01 L1185.01,54.37 L1190.38,53.74 L1195.75,53.11 L1201.13,52.48 L1206.5,51.85 L1211.88,51.22 L1217.25,50.59 L1222.63,49.96 L1228,49.33 L1233.38,48.69 L1238.75,48.06 L1244.13,47.43 L1249.5,46.8" fill="none" stroke="#000" stroke-width="2.9" stroke-dasharray="7.6 2.5"/>
<path d="M932.4,155.98 L937.77,155.55 L943.15,155.12 L948.52,154.69 L953.9,154.26 L959.27,153.84 L964.65,153.41 L970.02,152.99 L975.4,152.57 L980.77,152.15 L986.15,151.73 L991.52,151.31 L996.89,150.89 L1002.27,150.48 L1007.64,150.06 L1013.02,149.65 L1018.39,149.24 L1023.77,148.83 L1029.14,148.42 L1034.52,148.02 L1039.89,147.61 L1045.27,147.21 L1050.64,146.8 L1056.02,146.4 L1061.39,146 L1066.76,145.61 L1072.14,145.21 L1077.51,144.81 L1082.89,144.42 L1088.26,144.03 L1093.64,143.64 L1099.01,143.25 L1104.39,142.86 L1109.76,142.47 L1115.14,142.08 L1120.51,141.7 L1125.88,141.32 L1131.26,140.94 L1136.63,140.56 L1142.01,140.18 L1147.38,139.8 L1152.76,139.42 L1158.13,139.05 L1163.51,138.68 L1168.88,138.3 L1174.26,137.93 L1179.63,137.57 L1185.01,137.2 L1190.38,136.83 L1195.75,136.47 L1201.13,136.1 L1206.5,135.74 L1211.88,135.38 L1217.25,135.02 L1222.63,134.67 L1228,134.31 L1233.38,133.95 L1238.75,133.6 L1244.13,133.25 L1249.5,132.9" fill="none" stroke="#000" stroke-width="2.9" stroke-dasharray="7.6 2.5"/>
</g>
<rect x="932.4" y="23.3" width="315.0000000000001" height="194.1" fill="none" stroke="#808080" stroke-width="0.9"/>
<path d="M932.4,217.4 v-3.2M1037.4,217.4 v-3.2M1142.4,217.4 v-3.2M1247.4,217.4 v-3.2M932.4,23.3 h3.2M932.4,120.7 h3.2" stroke="#404040" stroke-width="0.7" fill="none"/>
<text x="930.9" y="240.9" text-anchor="middle" class="tk">0.85</text>
<text x="1035.6" y="240.9" text-anchor="middle" class="tk">0.9</text>
<text x="1140.1" y="240.9" text-anchor="middle" class="tk">0.95</text>
<text x="1247.0" y="240.9" text-anchor="middle" class="tk">1</text>
<text x="928.5" y="31.4" text-anchor="end" class="tk">1</text>
<text x="927.3" y="127.9" text-anchor="end" class="tk">0.5</text>
<text x="1092.8" y="271.6" text-anchor="middle" class="gi" style="font-size:19px">η</text>
<g transform="translate(883.5,146.6) rotate(-90)"><text x="-1" y="0" class="si" style="font-size:20px">E</text><text transform="translate(7.8,2.7) scale(1.12,1)" class="gi" style="font-size:13px">η</text><text x="20.6" y="-0.9" class="sr pr" style="font-size:17.8px">(</text><text transform="translate(30.7,0) scale(1.18,1)" class="gi" style="font-size:19.2px">η</text><text x="45.0" y="-0.9" class="sr pr" style="font-size:17.8px">)</text></g>
<path d="M851.2,5.6 H1499.1 V406.1 H851.2 Z" fill="none" stroke="#808080" stroke-width="1.3"/>
<path d="M851.2,406.1 v-4.9M877.12,406.1 v-2.9M903.03,406.1 v-2.9M928.95,406.1 v-2.9M954.86,406.1 v-2.9M980.78,406.1 v-4.9M1006.7,406.1 v-2.9M1032.61,406.1 v-2.9M1058.53,406.1 v-2.9M1084.44,406.1 v-2.9M1110.36,406.1 v-4.9M1136.28,406.1 v-2.9M1162.19,406.1 v-2.9M1188.11,406.1 v-2.9M1214.02,406.1 v-2.9M1239.94,406.1 v-4.9M1265.86,406.1 v-2.9M1291.77,406.1 v-2.9M1317.69,406.1 v-2.9M1343.6,406.1 v-2.9M1369.52,406.1 v-4.9M1395.44,406.1 v-2.9M1421.35,406.1 v-2.9M1447.27,406.1 v-2.9M1473.18,406.1 v-2.9M1499.1,406.1 v-4.9M851.2,406 h4.9M851.2,385.99 h2.9M851.2,365.97 h2.9M851.2,345.95 h2.9M851.2,325.94 h4.9M851.2,305.93 h2.9M851.2,285.91 h2.9M851.2,265.89 h2.9M851.2,245.88 h4.9M851.2,225.86 h2.9M851.2,205.85 h2.9M851.2,185.83 h2.9M851.2,165.82 h4.9M851.2,145.8 h2.9M851.2,125.79 h2.9M851.2,105.77 h2.9M851.2,85.76 h4.9M851.2,65.75 h2.9M851.2,45.73 h2.9M851.2,25.72 h2.9M851.2,5.7 h4.9" fill="none" stroke="#404040" stroke-width="0.9"/>
<text x="850" y="428.7" text-anchor="middle" class="tk">0.5</text>
<text x="979.58" y="428.7" text-anchor="middle" class="tk">0.6</text>
<text x="1109.16" y="428.7" text-anchor="middle" class="tk">0.7</text>
<text x="1238.74" y="428.7" text-anchor="middle" class="tk">0.8</text>
<text x="1368.32" y="428.7" text-anchor="middle" class="tk">0.9</text>
<text x="1499.7" y="428.7" text-anchor="middle" class="tk">1.0</text>
<text x="843.7" y="413.9" text-anchor="end" class="tk">0.0</text>
<text x="843.7" y="333.84" text-anchor="end" class="tk">0.2</text>
<text x="843.7" y="253.78" text-anchor="end" class="tk">0.4</text>
<text x="843.7" y="173.72" text-anchor="end" class="tk">0.6</text>
<text x="843.7" y="93.66" text-anchor="end" class="tk">0.8</text>
<text x="847.3" y="13.6" text-anchor="end" class="tk">1.0</text>
<g transform="translate(800.6,231.4) rotate(-90)"><text x="-1" y="0" class="si" style="font-size:20px">E</text><text transform="translate(7.8,2.7) scale(1.12,1)" class="gi" style="font-size:13px">η</text><text x="20.6" y="-0.9" class="sr pr" style="font-size:17.8px">(</text><text transform="translate(30.7,0) scale(1.18,1)" class="gi" style="font-size:19.2px">η</text><text x="45.0" y="-0.9" class="sr pr" style="font-size:17.8px">)</text></g>
<text x="1178" y="459.6" text-anchor="middle" class="gi" style="font-size:19.5px">η</text>
</svg>
</body></html>
